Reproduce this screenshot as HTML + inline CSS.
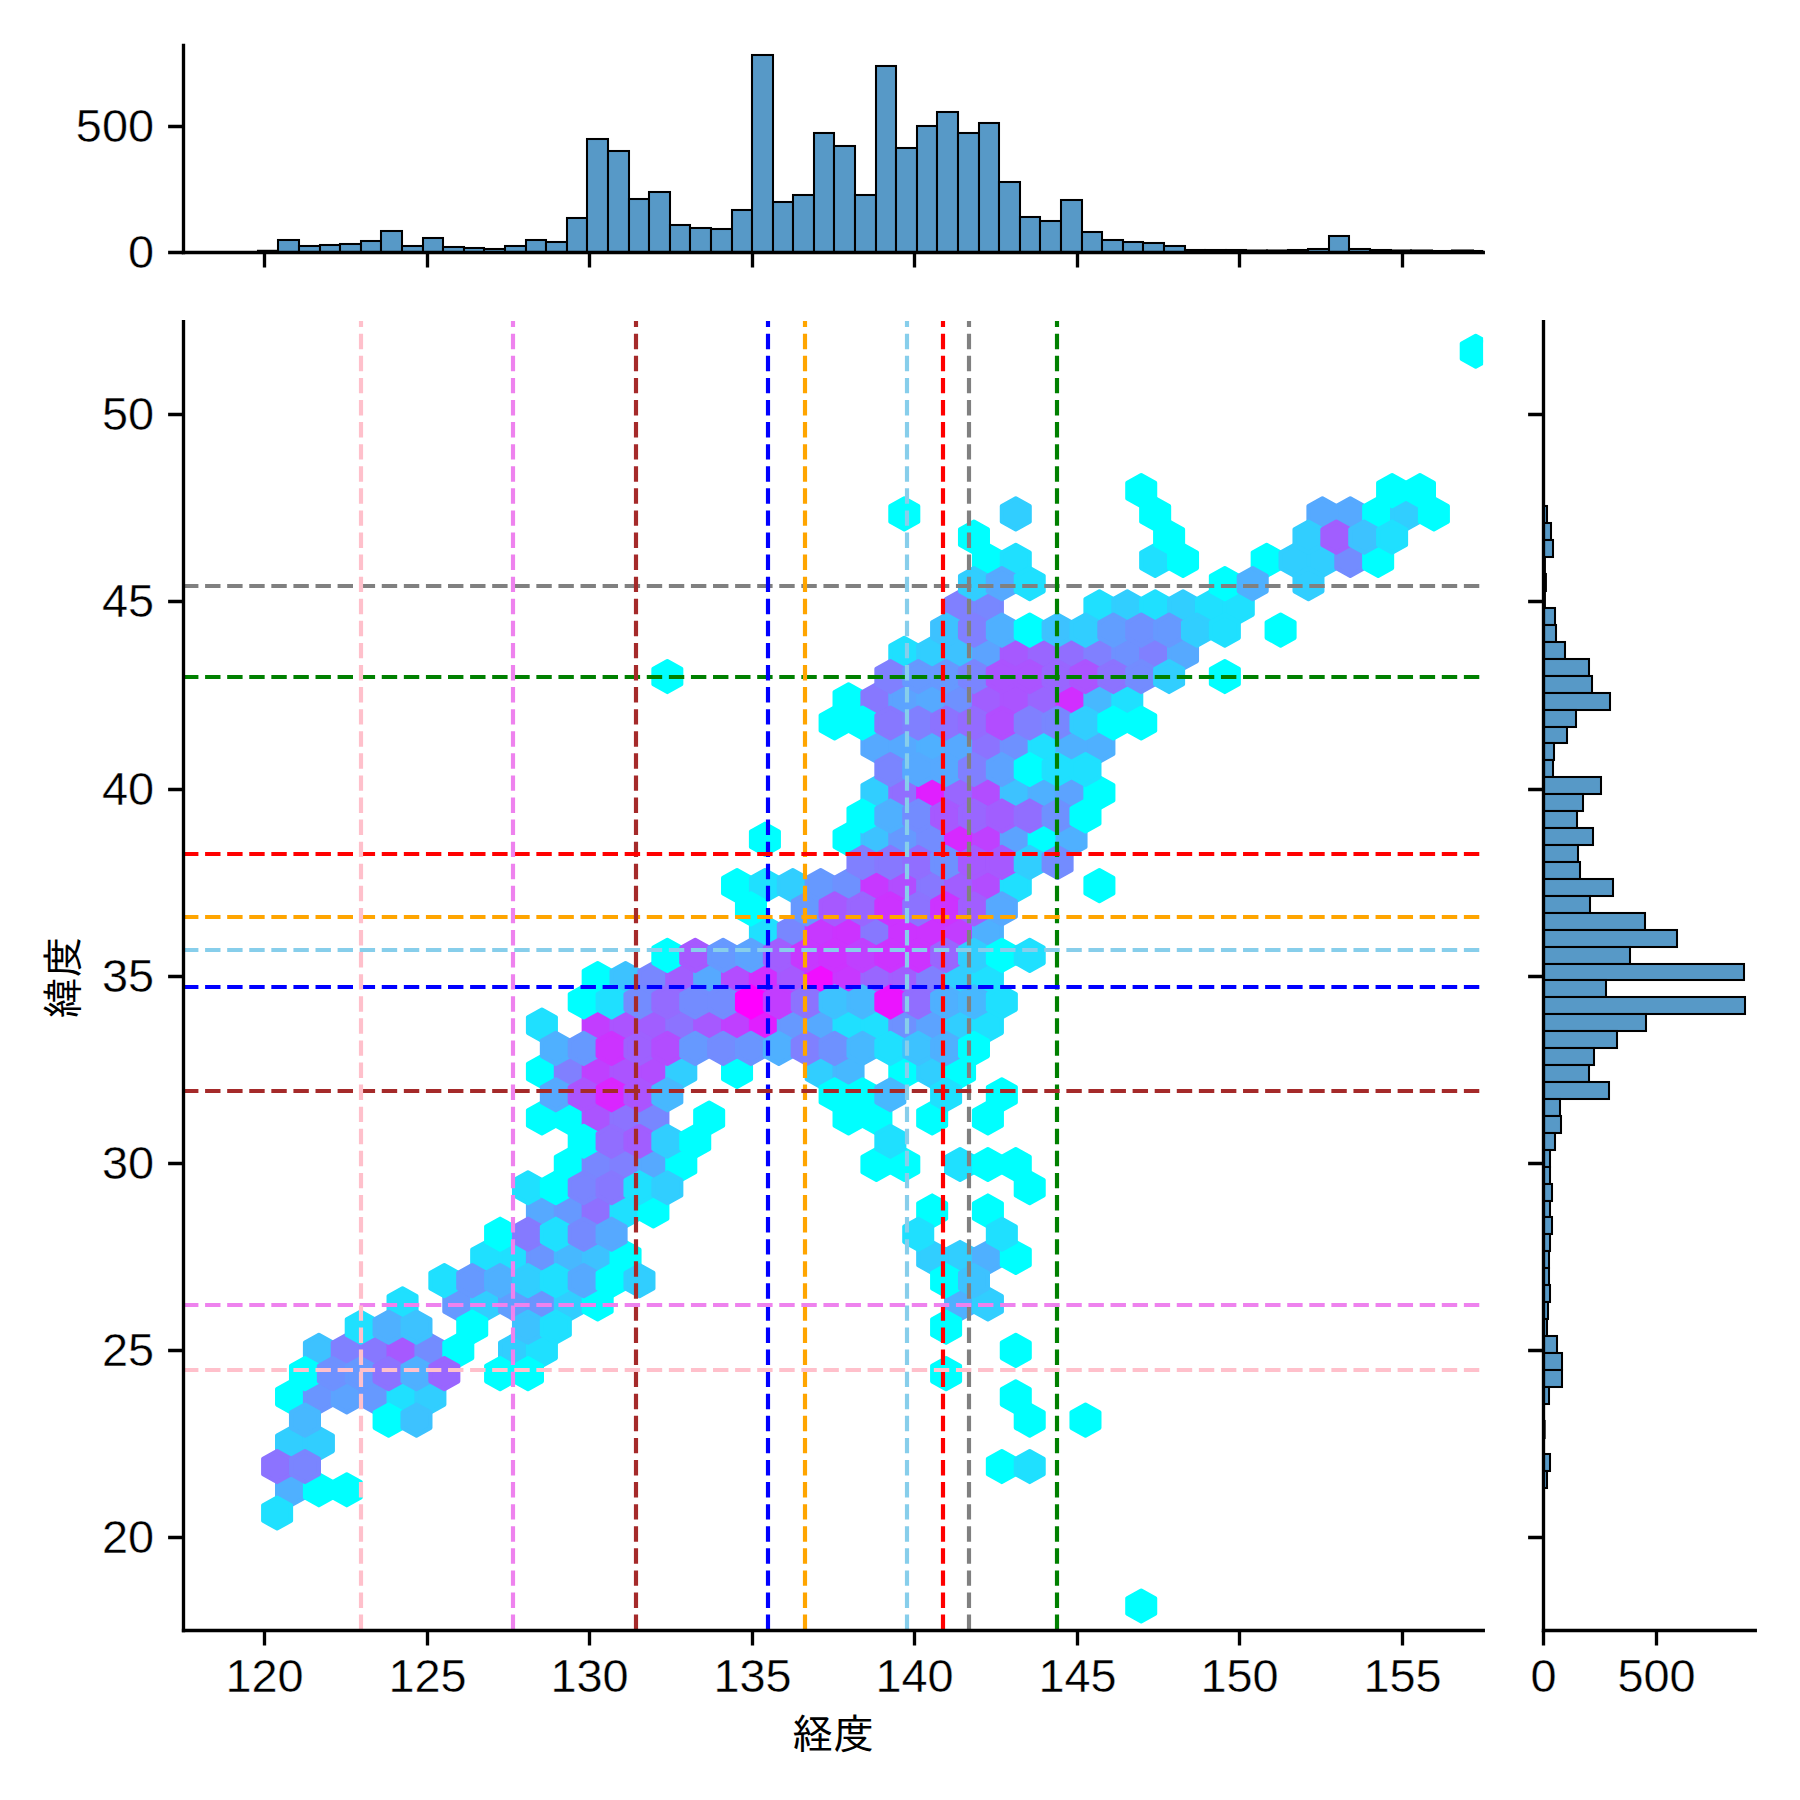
<!DOCTYPE html>
<html lang="ja"><head><meta charset="utf-8"><title>経度・緯度 jointplot</title>
<style>html,body{margin:0;padding:0;background:#fff}svg{display:block}.t{font-family:"Liberation Sans","IPAGothic",sans-serif;font-size:46.9px;fill:#000;stroke:#fff;stroke-width:0.4}.l{font-family:"Liberation Sans","IPAGothic",sans-serif;font-size:41.67px;fill:#000}.sp{stroke:#000;stroke-width:3.333;fill:none;stroke-linecap:square}.tk{stroke:#000;stroke-width:3.333;fill:none;stroke-linecap:butt}.d{stroke-width:4.167;fill:none;stroke-dasharray:15.417 6.667}.b{fill:#5799c7;stroke:#000;stroke-width:2.06;stroke-linejoin:miter}.h polygon{stroke-width:4.1667;stroke-linejoin:round}</style></head><body>
<svg xmlns="http://www.w3.org/2000/svg" width="1800" height="1800" viewBox="0 0 1800 1800">
<rect width="1800" height="1800" fill="#fff"/>
<defs>
<clipPath id="cm"><rect x="182.7" y="321.0" width="1300.4" height="1310.0"/></clipPath>
<clipPath id="ct"><rect x="183.5" y="45.5" width="1299.8" height="207.0"/></clipPath>
<clipPath id="cr"><rect x="1543.5" y="321.6" width="211.79999999999995" height="1308.9"/></clipPath>
</defs>
<g class="h" clip-path="url(#cm)">
<polygon points="304.98,1497.54 304.98,1482.05 291.04,1474.30 277.10,1482.05 277.10,1497.54 291.04,1505.28" fill="#4fb0ff" stroke="#4fb0ff"/>
<polygon points="304.98,1451.07 304.98,1435.58 291.04,1427.83 277.10,1435.58 277.10,1451.07 291.04,1458.81" fill="#31ceff" stroke="#31ceff"/>
<polygon points="304.98,1404.59 304.98,1389.10 291.04,1381.36 277.10,1389.10 277.10,1404.59 291.04,1412.34" fill="#00ffff" stroke="#00ffff"/>
<polygon points="332.85,1497.54 332.85,1482.05 318.91,1474.30 304.98,1482.05 304.98,1497.54 318.91,1505.28" fill="#00ffff" stroke="#00ffff"/>
<polygon points="332.85,1451.07 332.85,1435.58 318.91,1427.83 304.98,1435.58 304.98,1451.07 318.91,1458.81" fill="#31ceff" stroke="#31ceff"/>
<polygon points="332.85,1404.59 332.85,1389.10 318.91,1381.36 304.98,1389.10 304.98,1404.59 318.91,1412.34" fill="#6a95ff" stroke="#6a95ff"/>
<polygon points="332.85,1358.12 332.85,1342.63 318.91,1334.89 304.98,1342.63 304.98,1358.12 318.91,1365.87" fill="#3dc2ff" stroke="#3dc2ff"/>
<polygon points="360.73,1497.54 360.73,1482.05 346.79,1474.30 332.85,1482.05 332.85,1497.54 346.79,1505.28" fill="#00ffff" stroke="#00ffff"/>
<polygon points="360.73,1404.59 360.73,1389.10 346.79,1381.36 332.85,1389.10 332.85,1404.59 346.79,1412.34" fill="#5ca3ff" stroke="#5ca3ff"/>
<polygon points="360.73,1358.12 360.73,1342.63 346.79,1334.89 332.85,1342.63 332.85,1358.12 346.79,1365.87" fill="#8080ff" stroke="#8080ff"/>
<polygon points="388.60,1404.59 388.60,1389.10 374.66,1381.36 360.73,1389.10 360.73,1404.59 374.66,1412.34" fill="#6699ff" stroke="#6699ff"/>
<polygon points="388.60,1358.12 388.60,1342.63 374.66,1334.89 360.73,1342.63 360.73,1358.12 374.66,1365.87" fill="#8778ff" stroke="#8778ff"/>
<polygon points="416.48,1404.59 416.48,1389.10 402.54,1381.36 388.60,1389.10 388.60,1404.59 402.54,1412.34" fill="#1fe0ff" stroke="#1fe0ff"/>
<polygon points="416.48,1358.12 416.48,1342.63 402.54,1334.89 388.60,1342.63 388.60,1358.12 402.54,1365.87" fill="#a659ff" stroke="#a659ff"/>
<polygon points="416.48,1311.65 416.48,1296.16 402.54,1288.42 388.60,1296.16 388.60,1311.65 402.54,1319.40" fill="#1fe0ff" stroke="#1fe0ff"/>
<polygon points="444.35,1404.59 444.35,1389.10 430.41,1381.36 416.48,1389.10 416.48,1404.59 430.41,1412.34" fill="#31ceff" stroke="#31ceff"/>
<polygon points="444.35,1358.12 444.35,1342.63 430.41,1334.89 416.48,1342.63 416.48,1358.12 430.41,1365.87" fill="#738cff" stroke="#738cff"/>
<polygon points="472.23,1358.12 472.23,1342.63 458.29,1334.89 444.35,1342.63 444.35,1358.12 458.29,1365.87" fill="#00ffff" stroke="#00ffff"/>
<polygon points="472.23,1311.65 472.23,1296.16 458.29,1288.42 444.35,1296.16 444.35,1311.65 458.29,1319.40" fill="#6699ff" stroke="#6699ff"/>
<polygon points="500.10,1311.65 500.10,1296.16 486.16,1288.42 472.23,1296.16 472.23,1311.65 486.16,1319.40" fill="#31ceff" stroke="#31ceff"/>
<polygon points="500.10,1265.18 500.10,1249.69 486.16,1241.95 472.23,1249.69 472.23,1265.18 486.16,1272.93" fill="#1fe0ff" stroke="#1fe0ff"/>
<polygon points="527.98,1358.12 527.98,1342.63 514.04,1334.89 500.10,1342.63 500.10,1358.12 514.04,1365.87" fill="#31ceff" stroke="#31ceff"/>
<polygon points="527.98,1311.65 527.98,1296.16 514.04,1288.42 500.10,1296.16 500.10,1311.65 514.04,1319.40" fill="#619eff" stroke="#619eff"/>
<polygon points="527.98,1265.18 527.98,1249.69 514.04,1241.95 500.10,1249.69 500.10,1265.18 514.04,1272.93" fill="#1fe0ff" stroke="#1fe0ff"/>
<polygon points="555.85,1358.12 555.85,1342.63 541.91,1334.89 527.98,1342.63 527.98,1358.12 541.91,1365.87" fill="#1fe0ff" stroke="#1fe0ff"/>
<polygon points="555.85,1311.65 555.85,1296.16 541.91,1288.42 527.98,1296.16 527.98,1311.65 541.91,1319.40" fill="#6a95ff" stroke="#6a95ff"/>
<polygon points="555.85,1265.18 555.85,1249.69 541.91,1241.95 527.98,1249.69 527.98,1265.18 541.91,1272.93" fill="#6a95ff" stroke="#6a95ff"/>
<polygon points="555.85,1218.71 555.85,1203.22 541.91,1195.47 527.98,1203.22 527.98,1218.71 541.91,1226.46" fill="#56a9ff" stroke="#56a9ff"/>
<polygon points="555.85,1125.77 555.85,1110.28 541.91,1102.53 527.98,1110.28 527.98,1125.77 541.91,1133.51" fill="#00ffff" stroke="#00ffff"/>
<polygon points="555.85,1079.30 555.85,1063.81 541.91,1056.06 527.98,1063.81 527.98,1079.30 541.91,1087.04" fill="#00ffff" stroke="#00ffff"/>
<polygon points="555.85,1032.83 555.85,1017.33 541.91,1009.59 527.98,1017.33 527.98,1032.83 541.91,1040.57" fill="#1fe0ff" stroke="#1fe0ff"/>
<polygon points="583.73,1311.65 583.73,1296.16 569.79,1288.42 555.85,1296.16 555.85,1311.65 569.79,1319.40" fill="#31ceff" stroke="#31ceff"/>
<polygon points="583.73,1265.18 583.73,1249.69 569.79,1241.95 555.85,1249.69 555.85,1265.18 569.79,1272.93" fill="#47b8ff" stroke="#47b8ff"/>
<polygon points="583.73,1218.71 583.73,1203.22 569.79,1195.47 555.85,1203.22 555.85,1218.71 569.79,1226.46" fill="#6699ff" stroke="#6699ff"/>
<polygon points="583.73,1172.24 583.73,1156.75 569.79,1149.00 555.85,1156.75 555.85,1172.24 569.79,1179.98" fill="#00ffff" stroke="#00ffff"/>
<polygon points="583.73,1125.77 583.73,1110.28 569.79,1102.53 555.85,1110.28 555.85,1125.77 569.79,1133.51" fill="#00ffff" stroke="#00ffff"/>
<polygon points="583.73,1079.30 583.73,1063.81 569.79,1056.06 555.85,1063.81 555.85,1079.30 569.79,1087.04" fill="#8080ff" stroke="#8080ff"/>
<polygon points="611.60,1311.65 611.60,1296.16 597.66,1288.42 583.73,1296.16 583.73,1311.65 597.66,1319.40" fill="#00ffff" stroke="#00ffff"/>
<polygon points="611.60,1265.18 611.60,1249.69 597.66,1241.95 583.73,1249.69 583.73,1265.18 597.66,1272.93" fill="#3dc2ff" stroke="#3dc2ff"/>
<polygon points="611.60,1218.71 611.60,1203.22 597.66,1195.47 583.73,1203.22 583.73,1218.71 597.66,1226.46" fill="#8f70ff" stroke="#8f70ff"/>
<polygon points="611.60,1172.24 611.60,1156.75 597.66,1149.00 583.73,1156.75 583.73,1172.24 597.66,1179.98" fill="#7887ff" stroke="#7887ff"/>
<polygon points="611.60,1125.77 611.60,1110.28 597.66,1102.53 583.73,1110.28 583.73,1125.77 597.66,1133.51" fill="#ab54ff" stroke="#ab54ff"/>
<polygon points="611.60,1079.30 611.60,1063.81 597.66,1056.06 583.73,1063.81 583.73,1079.30 597.66,1087.04" fill="#bf40ff" stroke="#bf40ff"/>
<polygon points="611.60,1032.83 611.60,1017.33 597.66,1009.59 583.73,1017.33 583.73,1032.83 597.66,1040.57" fill="#c23dff" stroke="#c23dff"/>
<polygon points="611.60,986.35 611.60,970.86 597.66,963.12 583.73,970.86 583.73,986.35 597.66,994.10" fill="#00ffff" stroke="#00ffff"/>
<polygon points="639.48,1265.18 639.48,1249.69 625.54,1241.95 611.60,1249.69 611.60,1265.18 625.54,1272.93" fill="#00ffff" stroke="#00ffff"/>
<polygon points="639.48,1218.71 639.48,1203.22 625.54,1195.47 611.60,1203.22 611.60,1218.71 625.54,1226.46" fill="#1fe0ff" stroke="#1fe0ff"/>
<polygon points="639.48,1172.24 639.48,1156.75 625.54,1149.00 611.60,1156.75 611.60,1172.24 625.54,1179.98" fill="#8080ff" stroke="#8080ff"/>
<polygon points="639.48,1125.77 639.48,1110.28 625.54,1102.53 611.60,1110.28 611.60,1125.77 625.54,1133.51" fill="#8c73ff" stroke="#8c73ff"/>
<polygon points="639.48,1079.30 639.48,1063.81 625.54,1056.06 611.60,1063.81 611.60,1079.30 625.54,1087.04" fill="#ab54ff" stroke="#ab54ff"/>
<polygon points="639.48,1032.83 639.48,1017.33 625.54,1009.59 611.60,1017.33 611.60,1032.83 625.54,1040.57" fill="#ab54ff" stroke="#ab54ff"/>
<polygon points="639.48,986.35 639.48,970.86 625.54,963.12 611.60,970.86 611.60,986.35 625.54,994.10" fill="#3dc2ff" stroke="#3dc2ff"/>
<polygon points="667.35,1218.71 667.35,1203.22 653.41,1195.47 639.48,1203.22 639.48,1218.71 653.41,1226.46" fill="#00ffff" stroke="#00ffff"/>
<polygon points="667.35,1172.24 667.35,1156.75 653.41,1149.00 639.48,1156.75 639.48,1172.24 653.41,1179.98" fill="#56a9ff" stroke="#56a9ff"/>
<polygon points="667.35,1125.77 667.35,1110.28 653.41,1102.53 639.48,1110.28 639.48,1125.77 653.41,1133.51" fill="#7887ff" stroke="#7887ff"/>
<polygon points="667.35,1079.30 667.35,1063.81 653.41,1056.06 639.48,1063.81 639.48,1079.30 653.41,1087.04" fill="#b24dff" stroke="#b24dff"/>
<polygon points="667.35,1032.83 667.35,1017.33 653.41,1009.59 639.48,1017.33 639.48,1032.83 653.41,1040.57" fill="#a15eff" stroke="#a15eff"/>
<polygon points="667.35,986.35 667.35,970.86 653.41,963.12 639.48,970.86 639.48,986.35 653.41,994.10" fill="#7887ff" stroke="#7887ff"/>
<polygon points="695.23,1172.24 695.23,1156.75 681.29,1149.00 667.35,1156.75 667.35,1172.24 681.29,1179.98" fill="#00ffff" stroke="#00ffff"/>
<polygon points="695.23,1079.30 695.23,1063.81 681.29,1056.06 667.35,1063.81 667.35,1079.30 681.29,1087.04" fill="#31ceff" stroke="#31ceff"/>
<polygon points="695.23,1032.83 695.23,1017.33 681.29,1009.59 667.35,1017.33 667.35,1032.83 681.29,1040.57" fill="#8c73ff" stroke="#8c73ff"/>
<polygon points="695.23,986.35 695.23,970.86 681.29,963.12 667.35,970.86 667.35,986.35 681.29,994.10" fill="#a15eff" stroke="#a15eff"/>
<polygon points="723.10,1125.77 723.10,1110.28 709.16,1102.53 695.23,1110.28 695.23,1125.77 709.16,1133.51" fill="#00ffff" stroke="#00ffff"/>
<polygon points="723.10,1032.83 723.10,1017.33 709.16,1009.59 695.23,1017.33 695.23,1032.83 709.16,1040.57" fill="#a659ff" stroke="#a659ff"/>
<polygon points="723.10,986.35 723.10,970.86 709.16,963.12 695.23,970.86 695.23,986.35 709.16,994.10" fill="#56a9ff" stroke="#56a9ff"/>
<polygon points="750.98,1079.30 750.98,1063.81 737.04,1056.06 723.10,1063.81 723.10,1079.30 737.04,1087.04" fill="#00ffff" stroke="#00ffff"/>
<polygon points="750.98,1032.83 750.98,1017.33 737.04,1009.59 723.10,1017.33 723.10,1032.83 737.04,1040.57" fill="#bf40ff" stroke="#bf40ff"/>
<polygon points="750.98,986.35 750.98,970.86 737.04,963.12 723.10,970.86 723.10,986.35 737.04,994.10" fill="#b24dff" stroke="#b24dff"/>
<polygon points="750.98,893.41 750.98,877.92 737.04,870.18 723.10,877.92 723.10,893.41 737.04,901.16" fill="#00ffff" stroke="#00ffff"/>
<polygon points="778.85,1032.83 778.85,1017.33 764.91,1009.59 750.98,1017.33 750.98,1032.83 764.91,1040.57" fill="#e01fff" stroke="#e01fff"/>
<polygon points="778.85,986.35 778.85,970.86 764.91,963.12 750.98,970.86 750.98,986.35 764.91,994.10" fill="#d12eff" stroke="#d12eff"/>
<polygon points="778.85,939.88 778.85,924.39 764.91,916.65 750.98,924.39 750.98,939.88 764.91,947.63" fill="#1fe0ff" stroke="#1fe0ff"/>
<polygon points="778.85,893.41 778.85,877.92 764.91,870.18 750.98,877.92 750.98,893.41 764.91,901.16" fill="#1fe0ff" stroke="#1fe0ff"/>
<polygon points="778.85,846.94 778.85,831.45 764.91,823.70 750.98,831.45 750.98,846.94 764.91,854.69" fill="#00ffff" stroke="#00ffff"/>
<polygon points="806.73,1032.83 806.73,1017.33 792.79,1009.59 778.85,1017.33 778.85,1032.83 792.79,1040.57" fill="#6699ff" stroke="#6699ff"/>
<polygon points="806.73,986.35 806.73,970.86 792.79,963.12 778.85,970.86 778.85,986.35 792.79,994.10" fill="#a659ff" stroke="#a659ff"/>
<polygon points="806.73,939.88 806.73,924.39 792.79,916.65 778.85,924.39 778.85,939.88 792.79,947.63" fill="#7887ff" stroke="#7887ff"/>
<polygon points="806.73,893.41 806.73,877.92 792.79,870.18 778.85,877.92 778.85,893.41 792.79,901.16" fill="#31ceff" stroke="#31ceff"/>
<polygon points="834.60,1079.30 834.60,1063.81 820.66,1056.06 806.73,1063.81 806.73,1079.30 820.66,1087.04" fill="#31ceff" stroke="#31ceff"/>
<polygon points="834.60,1032.83 834.60,1017.33 820.66,1009.59 806.73,1017.33 806.73,1032.83 820.66,1040.57" fill="#56a9ff" stroke="#56a9ff"/>
<polygon points="834.60,986.35 834.60,970.86 820.66,963.12 806.73,970.86 806.73,986.35 820.66,994.10" fill="#f00fff" stroke="#f00fff"/>
<polygon points="834.60,939.88 834.60,924.39 820.66,916.65 806.73,924.39 806.73,939.88 820.66,947.63" fill="#c738ff" stroke="#c738ff"/>
<polygon points="834.60,893.41 834.60,877.92 820.66,870.18 806.73,877.92 806.73,893.41 820.66,901.16" fill="#6699ff" stroke="#6699ff"/>
<polygon points="862.48,1125.77 862.48,1110.28 848.54,1102.53 834.60,1110.28 834.60,1125.77 848.54,1133.51" fill="#00ffff" stroke="#00ffff"/>
<polygon points="862.48,1079.30 862.48,1063.81 848.54,1056.06 834.60,1063.81 834.60,1079.30 848.54,1087.04" fill="#47b8ff" stroke="#47b8ff"/>
<polygon points="862.48,1032.83 862.48,1017.33 848.54,1009.59 834.60,1017.33 834.60,1032.83 848.54,1040.57" fill="#1fe0ff" stroke="#1fe0ff"/>
<polygon points="862.48,986.35 862.48,970.86 848.54,963.12 834.60,970.86 834.60,986.35 848.54,994.10" fill="#c738ff" stroke="#c738ff"/>
<polygon points="862.48,939.88 862.48,924.39 848.54,916.65 834.60,924.39 834.60,939.88 848.54,947.63" fill="#cc33ff" stroke="#cc33ff"/>
<polygon points="862.48,893.41 862.48,877.92 848.54,870.18 834.60,877.92 834.60,893.41 848.54,901.16" fill="#6e91ff" stroke="#6e91ff"/>
<polygon points="862.48,846.94 862.48,831.45 848.54,823.70 834.60,831.45 834.60,846.94 848.54,854.69" fill="#00ffff" stroke="#00ffff"/>
<polygon points="862.48,707.53 862.48,692.04 848.54,684.29 834.60,692.04 834.60,707.53 848.54,715.27" fill="#00ffff" stroke="#00ffff"/>
<polygon points="890.35,1172.24 890.35,1156.75 876.41,1149.00 862.48,1156.75 862.48,1172.24 876.41,1179.98" fill="#00ffff" stroke="#00ffff"/>
<polygon points="890.35,1125.77 890.35,1110.28 876.41,1102.53 862.48,1110.28 862.48,1125.77 876.41,1133.51" fill="#00ffff" stroke="#00ffff"/>
<polygon points="890.35,1032.83 890.35,1017.33 876.41,1009.59 862.48,1017.33 862.48,1032.83 876.41,1040.57" fill="#1fe0ff" stroke="#1fe0ff"/>
<polygon points="890.35,986.35 890.35,970.86 876.41,963.12 862.48,970.86 862.48,986.35 876.41,994.10" fill="#9966ff" stroke="#9966ff"/>
<polygon points="890.35,939.88 890.35,924.39 876.41,916.65 862.48,924.39 862.48,939.88 876.41,947.63" fill="#8778ff" stroke="#8778ff"/>
<polygon points="890.35,893.41 890.35,877.92 876.41,870.18 862.48,877.92 862.48,893.41 876.41,901.16" fill="#c738ff" stroke="#c738ff"/>
<polygon points="890.35,846.94 890.35,831.45 876.41,823.70 862.48,831.45 862.48,846.94 876.41,854.69" fill="#3dc2ff" stroke="#3dc2ff"/>
<polygon points="890.35,800.47 890.35,784.98 876.41,777.23 862.48,784.98 862.48,800.47 876.41,808.21" fill="#31ceff" stroke="#31ceff"/>
<polygon points="890.35,754.00 890.35,738.51 876.41,730.76 862.48,738.51 862.48,754.00 876.41,761.74" fill="#56a9ff" stroke="#56a9ff"/>
<polygon points="890.35,707.53 890.35,692.04 876.41,684.29 862.48,692.04 862.48,707.53 876.41,715.27" fill="#8778ff" stroke="#8778ff"/>
<polygon points="918.23,1172.24 918.23,1156.75 904.29,1149.00 890.35,1156.75 890.35,1172.24 904.29,1179.98" fill="#00ffff" stroke="#00ffff"/>
<polygon points="918.23,1079.30 918.23,1063.81 904.29,1056.06 890.35,1063.81 890.35,1079.30 904.29,1087.04" fill="#00ffff" stroke="#00ffff"/>
<polygon points="918.23,1032.83 918.23,1017.33 904.29,1009.59 890.35,1017.33 890.35,1032.83 904.29,1040.57" fill="#6e91ff" stroke="#6e91ff"/>
<polygon points="918.23,986.35 918.23,970.86 904.29,963.12 890.35,970.86 890.35,986.35 904.29,994.10" fill="#a15eff" stroke="#a15eff"/>
<polygon points="918.23,939.88 918.23,924.39 904.29,916.65 890.35,924.39 890.35,939.88 904.29,947.63" fill="#cc33ff" stroke="#cc33ff"/>
<polygon points="918.23,893.41 918.23,877.92 904.29,870.18 890.35,877.92 890.35,893.41 904.29,901.16" fill="#b24dff" stroke="#b24dff"/>
<polygon points="918.23,846.94 918.23,831.45 904.29,823.70 890.35,831.45 890.35,846.94 904.29,854.69" fill="#6699ff" stroke="#6699ff"/>
<polygon points="918.23,800.47 918.23,784.98 904.29,777.23 890.35,784.98 890.35,800.47 904.29,808.21" fill="#916eff" stroke="#916eff"/>
<polygon points="918.23,754.00 918.23,738.51 904.29,730.76 890.35,738.51 890.35,754.00 904.29,761.74" fill="#56a9ff" stroke="#56a9ff"/>
<polygon points="918.23,707.53 918.23,692.04 904.29,684.29 890.35,692.04 890.35,707.53 904.29,715.27" fill="#5ca3ff" stroke="#5ca3ff"/>
<polygon points="918.23,661.06 918.23,645.57 904.29,637.82 890.35,645.57 890.35,661.06 904.29,668.80" fill="#1fe0ff" stroke="#1fe0ff"/>
<polygon points="918.23,521.64 918.23,506.15 904.29,498.41 890.35,506.15 890.35,521.64 904.29,529.39" fill="#00ffff" stroke="#00ffff"/>
<polygon points="946.10,1265.18 946.10,1249.69 932.16,1241.95 918.23,1249.69 918.23,1265.18 932.16,1272.93" fill="#31ceff" stroke="#31ceff"/>
<polygon points="946.10,1218.71 946.10,1203.22 932.16,1195.47 918.23,1203.22 918.23,1218.71 932.16,1226.46" fill="#00ffff" stroke="#00ffff"/>
<polygon points="946.10,1125.77 946.10,1110.28 932.16,1102.53 918.23,1110.28 918.23,1125.77 932.16,1133.51" fill="#00ffff" stroke="#00ffff"/>
<polygon points="946.10,1079.30 946.10,1063.81 932.16,1056.06 918.23,1063.81 918.23,1079.30 932.16,1087.04" fill="#31ceff" stroke="#31ceff"/>
<polygon points="946.10,1032.83 946.10,1017.33 932.16,1009.59 918.23,1017.33 918.23,1032.83 932.16,1040.57" fill="#5ca3ff" stroke="#5ca3ff"/>
<polygon points="946.10,986.35 946.10,970.86 932.16,963.12 918.23,970.86 918.23,986.35 932.16,994.10" fill="#8080ff" stroke="#8080ff"/>
<polygon points="946.10,939.88 946.10,924.39 932.16,916.65 918.23,924.39 918.23,939.88 932.16,947.63" fill="#cc33ff" stroke="#cc33ff"/>
<polygon points="946.10,893.41 946.10,877.92 932.16,870.18 918.23,877.92 918.23,893.41 932.16,901.16" fill="#8778ff" stroke="#8778ff"/>
<polygon points="946.10,846.94 946.10,831.45 932.16,823.70 918.23,831.45 918.23,846.94 932.16,854.69" fill="#738cff" stroke="#738cff"/>
<polygon points="946.10,800.47 946.10,784.98 932.16,777.23 918.23,784.98 918.23,800.47 932.16,808.21" fill="#e01fff" stroke="#e01fff"/>
<polygon points="946.10,754.00 946.10,738.51 932.16,730.76 918.23,738.51 918.23,754.00 932.16,761.74" fill="#4fb0ff" stroke="#4fb0ff"/>
<polygon points="946.10,707.53 946.10,692.04 932.16,684.29 918.23,692.04 918.23,707.53 932.16,715.27" fill="#56a9ff" stroke="#56a9ff"/>
<polygon points="946.10,661.06 946.10,645.57 932.16,637.82 918.23,645.57 918.23,661.06 932.16,668.80" fill="#31ceff" stroke="#31ceff"/>
<polygon points="973.98,1311.65 973.98,1296.16 960.04,1288.42 946.10,1296.16 946.10,1311.65 960.04,1319.40" fill="#4fb0ff" stroke="#4fb0ff"/>
<polygon points="973.98,1265.18 973.98,1249.69 960.04,1241.95 946.10,1249.69 946.10,1265.18 960.04,1272.93" fill="#31ceff" stroke="#31ceff"/>
<polygon points="973.98,1172.24 973.98,1156.75 960.04,1149.00 946.10,1156.75 946.10,1172.24 960.04,1179.98" fill="#1fe0ff" stroke="#1fe0ff"/>
<polygon points="973.98,1079.30 973.98,1063.81 960.04,1056.06 946.10,1063.81 946.10,1079.30 960.04,1087.04" fill="#00ffff" stroke="#00ffff"/>
<polygon points="973.98,1032.83 973.98,1017.33 960.04,1009.59 946.10,1017.33 946.10,1032.83 960.04,1040.57" fill="#31ceff" stroke="#31ceff"/>
<polygon points="973.98,986.35 973.98,970.86 960.04,963.12 946.10,970.86 946.10,986.35 960.04,994.10" fill="#31ceff" stroke="#31ceff"/>
<polygon points="973.98,939.88 973.98,924.39 960.04,916.65 946.10,924.39 946.10,939.88 960.04,947.63" fill="#c23dff" stroke="#c23dff"/>
<polygon points="973.98,893.41 973.98,877.92 960.04,870.18 946.10,877.92 946.10,893.41 960.04,901.16" fill="#a15eff" stroke="#a15eff"/>
<polygon points="973.98,846.94 973.98,831.45 960.04,823.70 946.10,831.45 946.10,846.94 960.04,854.69" fill="#d629ff" stroke="#d629ff"/>
<polygon points="973.98,800.47 973.98,784.98 960.04,777.23 946.10,784.98 946.10,800.47 960.04,808.21" fill="#9966ff" stroke="#9966ff"/>
<polygon points="973.98,754.00 973.98,738.51 960.04,730.76 946.10,738.51 946.10,754.00 960.04,761.74" fill="#56a9ff" stroke="#56a9ff"/>
<polygon points="973.98,707.53 973.98,692.04 960.04,684.29 946.10,692.04 946.10,707.53 960.04,715.27" fill="#6e91ff" stroke="#6e91ff"/>
<polygon points="973.98,661.06 973.98,645.57 960.04,637.82 946.10,645.57 946.10,661.06 960.04,668.80" fill="#3dc2ff" stroke="#3dc2ff"/>
<polygon points="973.98,614.58 973.98,599.09 960.04,591.35 946.10,599.09 946.10,614.58 960.04,622.33" fill="#8080ff" stroke="#8080ff"/>
<polygon points="1001.85,1311.65 1001.85,1296.16 987.91,1288.42 973.98,1296.16 973.98,1311.65 987.91,1319.40" fill="#31ceff" stroke="#31ceff"/>
<polygon points="1001.85,1265.18 1001.85,1249.69 987.91,1241.95 973.98,1249.69 973.98,1265.18 987.91,1272.93" fill="#4fb0ff" stroke="#4fb0ff"/>
<polygon points="1001.85,1218.71 1001.85,1203.22 987.91,1195.47 973.98,1203.22 973.98,1218.71 987.91,1226.46" fill="#00ffff" stroke="#00ffff"/>
<polygon points="1001.85,1172.24 1001.85,1156.75 987.91,1149.00 973.98,1156.75 973.98,1172.24 987.91,1179.98" fill="#00ffff" stroke="#00ffff"/>
<polygon points="1001.85,1125.77 1001.85,1110.28 987.91,1102.53 973.98,1110.28 973.98,1125.77 987.91,1133.51" fill="#00ffff" stroke="#00ffff"/>
<polygon points="1001.85,1032.83 1001.85,1017.33 987.91,1009.59 973.98,1017.33 973.98,1032.83 987.91,1040.57" fill="#1fe0ff" stroke="#1fe0ff"/>
<polygon points="1001.85,986.35 1001.85,970.86 987.91,963.12 973.98,970.86 973.98,986.35 987.91,994.10" fill="#1fe0ff" stroke="#1fe0ff"/>
<polygon points="1001.85,939.88 1001.85,924.39 987.91,916.65 973.98,924.39 973.98,939.88 987.91,947.63" fill="#4fb0ff" stroke="#4fb0ff"/>
<polygon points="1001.85,893.41 1001.85,877.92 987.91,870.18 973.98,877.92 973.98,893.41 987.91,901.16" fill="#b24dff" stroke="#b24dff"/>
<polygon points="1001.85,846.94 1001.85,831.45 987.91,823.70 973.98,831.45 973.98,846.94 987.91,854.69" fill="#bf40ff" stroke="#bf40ff"/>
<polygon points="1001.85,800.47 1001.85,784.98 987.91,777.23 973.98,784.98 973.98,800.47 987.91,808.21" fill="#b24dff" stroke="#b24dff"/>
<polygon points="1001.85,754.00 1001.85,738.51 987.91,730.76 973.98,738.51 973.98,754.00 987.91,761.74" fill="#8c73ff" stroke="#8c73ff"/>
<polygon points="1001.85,707.53 1001.85,692.04 987.91,684.29 973.98,692.04 973.98,707.53 987.91,715.27" fill="#a15eff" stroke="#a15eff"/>
<polygon points="1001.85,661.06 1001.85,645.57 987.91,637.82 973.98,645.57 973.98,661.06 987.91,668.80" fill="#5ca3ff" stroke="#5ca3ff"/>
<polygon points="1001.85,614.58 1001.85,599.09 987.91,591.35 973.98,599.09 973.98,614.58 987.91,622.33" fill="#7887ff" stroke="#7887ff"/>
<polygon points="1001.85,568.11 1001.85,552.62 987.91,544.88 973.98,552.62 973.98,568.11 987.91,575.86" fill="#00ffff" stroke="#00ffff"/>
<polygon points="1029.72,1404.59 1029.72,1389.10 1015.79,1381.36 1001.85,1389.10 1001.85,1404.59 1015.79,1412.34" fill="#00ffff" stroke="#00ffff"/>
<polygon points="1029.72,1358.12 1029.72,1342.63 1015.79,1334.89 1001.85,1342.63 1001.85,1358.12 1015.79,1365.87" fill="#00ffff" stroke="#00ffff"/>
<polygon points="1029.72,1265.18 1029.72,1249.69 1015.79,1241.95 1001.85,1249.69 1001.85,1265.18 1015.79,1272.93" fill="#00ffff" stroke="#00ffff"/>
<polygon points="1029.72,1172.24 1029.72,1156.75 1015.79,1149.00 1001.85,1156.75 1001.85,1172.24 1015.79,1179.98" fill="#00ffff" stroke="#00ffff"/>
<polygon points="1029.72,893.41 1029.72,877.92 1015.79,870.18 1001.85,877.92 1001.85,893.41 1015.79,901.16" fill="#1fe0ff" stroke="#1fe0ff"/>
<polygon points="1029.72,846.94 1029.72,831.45 1015.79,823.70 1001.85,831.45 1001.85,846.94 1015.79,854.69" fill="#5ca3ff" stroke="#5ca3ff"/>
<polygon points="1029.72,800.47 1029.72,784.98 1015.79,777.23 1001.85,784.98 1001.85,800.47 1015.79,808.21" fill="#3dc2ff" stroke="#3dc2ff"/>
<polygon points="1029.72,754.00 1029.72,738.51 1015.79,730.76 1001.85,738.51 1001.85,754.00 1015.79,761.74" fill="#6e91ff" stroke="#6e91ff"/>
<polygon points="1029.72,707.53 1029.72,692.04 1015.79,684.29 1001.85,692.04 1001.85,707.53 1015.79,715.27" fill="#ab54ff" stroke="#ab54ff"/>
<polygon points="1029.72,661.06 1029.72,645.57 1015.79,637.82 1001.85,645.57 1001.85,661.06 1015.79,668.80" fill="#a659ff" stroke="#a659ff"/>
<polygon points="1029.72,568.11 1029.72,552.62 1015.79,544.88 1001.85,552.62 1001.85,568.11 1015.79,575.86" fill="#1fe0ff" stroke="#1fe0ff"/>
<polygon points="1029.72,521.64 1029.72,506.15 1015.79,498.41 1001.85,506.15 1001.85,521.64 1015.79,529.39" fill="#31ceff" stroke="#31ceff"/>
<polygon points="1057.60,846.94 1057.60,831.45 1043.66,823.70 1029.72,831.45 1029.72,846.94 1043.66,854.69" fill="#00ffff" stroke="#00ffff"/>
<polygon points="1057.60,800.47 1057.60,784.98 1043.66,777.23 1029.72,784.98 1029.72,800.47 1043.66,808.21" fill="#4fb0ff" stroke="#4fb0ff"/>
<polygon points="1057.60,754.00 1057.60,738.51 1043.66,730.76 1029.72,738.51 1029.72,754.00 1043.66,761.74" fill="#1fe0ff" stroke="#1fe0ff"/>
<polygon points="1057.60,707.53 1057.60,692.04 1043.66,684.29 1029.72,692.04 1029.72,707.53 1043.66,715.27" fill="#9966ff" stroke="#9966ff"/>
<polygon points="1057.60,661.06 1057.60,645.57 1043.66,637.82 1029.72,645.57 1029.72,661.06 1043.66,668.80" fill="#9966ff" stroke="#9966ff"/>
<polygon points="1085.47,846.94 1085.47,831.45 1071.54,823.70 1057.60,831.45 1057.60,846.94 1071.54,854.69" fill="#4fb0ff" stroke="#4fb0ff"/>
<polygon points="1085.47,800.47 1085.47,784.98 1071.54,777.23 1057.60,784.98 1057.60,800.47 1071.54,808.21" fill="#5ca3ff" stroke="#5ca3ff"/>
<polygon points="1085.47,754.00 1085.47,738.51 1071.54,730.76 1057.60,738.51 1057.60,754.00 1071.54,761.74" fill="#4fb0ff" stroke="#4fb0ff"/>
<polygon points="1085.47,707.53 1085.47,692.04 1071.54,684.29 1057.60,692.04 1057.60,707.53 1071.54,715.27" fill="#d12eff" stroke="#d12eff"/>
<polygon points="1085.47,661.06 1085.47,645.57 1071.54,637.82 1057.60,645.57 1057.60,661.06 1071.54,668.80" fill="#916eff" stroke="#916eff"/>
<polygon points="1113.35,893.41 1113.35,877.92 1099.41,870.18 1085.47,877.92 1085.47,893.41 1099.41,901.16" fill="#00ffff" stroke="#00ffff"/>
<polygon points="1113.35,800.47 1113.35,784.98 1099.41,777.23 1085.47,784.98 1085.47,800.47 1099.41,808.21" fill="#00ffff" stroke="#00ffff"/>
<polygon points="1113.35,754.00 1113.35,738.51 1099.41,730.76 1085.47,738.51 1085.47,754.00 1099.41,761.74" fill="#4fb0ff" stroke="#4fb0ff"/>
<polygon points="1113.35,707.53 1113.35,692.04 1099.41,684.29 1085.47,692.04 1085.47,707.53 1099.41,715.27" fill="#47b8ff" stroke="#47b8ff"/>
<polygon points="1113.35,661.06 1113.35,645.57 1099.41,637.82 1085.47,645.57 1085.47,661.06 1099.41,668.80" fill="#8080ff" stroke="#8080ff"/>
<polygon points="1113.35,614.58 1113.35,599.09 1099.41,591.35 1085.47,599.09 1085.47,614.58 1099.41,622.33" fill="#1fe0ff" stroke="#1fe0ff"/>
<polygon points="1141.22,707.53 1141.22,692.04 1127.29,684.29 1113.35,692.04 1113.35,707.53 1127.29,715.27" fill="#1fe0ff" stroke="#1fe0ff"/>
<polygon points="1141.22,661.06 1141.22,645.57 1127.29,637.82 1113.35,645.57 1113.35,661.06 1127.29,668.80" fill="#6e91ff" stroke="#6e91ff"/>
<polygon points="1141.22,614.58 1141.22,599.09 1127.29,591.35 1113.35,599.09 1113.35,614.58 1127.29,622.33" fill="#31ceff" stroke="#31ceff"/>
<polygon points="1169.10,661.06 1169.10,645.57 1155.16,637.82 1141.22,645.57 1141.22,661.06 1155.16,668.80" fill="#8080ff" stroke="#8080ff"/>
<polygon points="1169.10,614.58 1169.10,599.09 1155.16,591.35 1141.22,599.09 1141.22,614.58 1155.16,622.33" fill="#1fe0ff" stroke="#1fe0ff"/>
<polygon points="1169.10,568.11 1169.10,552.62 1155.16,544.88 1141.22,552.62 1141.22,568.11 1155.16,575.86" fill="#1fe0ff" stroke="#1fe0ff"/>
<polygon points="1169.10,521.64 1169.10,506.15 1155.16,498.41 1141.22,506.15 1141.22,521.64 1155.16,529.39" fill="#00ffff" stroke="#00ffff"/>
<polygon points="1196.97,661.06 1196.97,645.57 1183.04,637.82 1169.10,645.57 1169.10,661.06 1183.04,668.80" fill="#56a9ff" stroke="#56a9ff"/>
<polygon points="1196.97,614.58 1196.97,599.09 1183.04,591.35 1169.10,599.09 1169.10,614.58 1183.04,622.33" fill="#31ceff" stroke="#31ceff"/>
<polygon points="1196.97,568.11 1196.97,552.62 1183.04,544.88 1169.10,552.62 1169.10,568.11 1183.04,575.86" fill="#00ffff" stroke="#00ffff"/>
<polygon points="1224.85,614.58 1224.85,599.09 1210.91,591.35 1196.97,599.09 1196.97,614.58 1210.91,622.33" fill="#1fe0ff" stroke="#1fe0ff"/>
<polygon points="1252.72,614.58 1252.72,599.09 1238.79,591.35 1224.85,599.09 1224.85,614.58 1238.79,622.33" fill="#1fe0ff" stroke="#1fe0ff"/>
<polygon points="1280.60,568.11 1280.60,552.62 1266.66,544.88 1252.72,552.62 1252.72,568.11 1266.66,575.86" fill="#00ffff" stroke="#00ffff"/>
<polygon points="1308.47,568.11 1308.47,552.62 1294.54,544.88 1280.60,552.62 1280.60,568.11 1294.54,575.86" fill="#31ceff" stroke="#31ceff"/>
<polygon points="1336.35,568.11 1336.35,552.62 1322.41,544.88 1308.47,552.62 1308.47,568.11 1322.41,575.86" fill="#31ceff" stroke="#31ceff"/>
<polygon points="1336.35,521.64 1336.35,506.15 1322.41,498.41 1308.47,506.15 1308.47,521.64 1322.41,529.39" fill="#56a9ff" stroke="#56a9ff"/>
<polygon points="1364.22,568.11 1364.22,552.62 1350.29,544.88 1336.35,552.62 1336.35,568.11 1350.29,575.86" fill="#738cff" stroke="#738cff"/>
<polygon points="1364.22,521.64 1364.22,506.15 1350.29,498.41 1336.35,506.15 1336.35,521.64 1350.29,529.39" fill="#56a9ff" stroke="#56a9ff"/>
<polygon points="1392.10,568.11 1392.10,552.62 1378.16,544.88 1364.22,552.62 1364.22,568.11 1378.16,575.86" fill="#00ffff" stroke="#00ffff"/>
<polygon points="1392.10,521.64 1392.10,506.15 1378.16,498.41 1364.22,506.15 1364.22,521.64 1378.16,529.39" fill="#00ffff" stroke="#00ffff"/>
<polygon points="1419.97,521.64 1419.97,506.15 1406.04,498.41 1392.10,506.15 1392.10,521.64 1406.04,529.39" fill="#31ceff" stroke="#31ceff"/>
<polygon points="1447.85,521.64 1447.85,506.15 1433.91,498.41 1419.97,506.15 1419.97,521.64 1433.91,529.39" fill="#00ffff" stroke="#00ffff"/>
<polygon points="291.04,1520.77 291.04,1505.28 277.10,1497.54 263.16,1505.28 263.16,1520.77 277.10,1528.52" fill="#1fe0ff" stroke="#1fe0ff"/>
<polygon points="291.04,1474.30 291.04,1458.81 277.10,1451.07 263.16,1458.81 263.16,1474.30 277.10,1482.05" fill="#8c73ff" stroke="#8c73ff"/>
<polygon points="318.91,1474.30 318.91,1458.81 304.98,1451.07 291.04,1458.81 291.04,1474.30 304.98,1482.05" fill="#7a85ff" stroke="#7a85ff"/>
<polygon points="318.91,1427.83 318.91,1412.34 304.98,1404.59 291.04,1412.34 291.04,1427.83 304.98,1435.58" fill="#47b8ff" stroke="#47b8ff"/>
<polygon points="318.91,1381.36 318.91,1365.87 304.98,1358.12 291.04,1365.87 291.04,1381.36 304.98,1389.10" fill="#00ffff" stroke="#00ffff"/>
<polygon points="346.79,1381.36 346.79,1365.87 332.85,1358.12 318.91,1365.87 318.91,1381.36 332.85,1389.10" fill="#6e91ff" stroke="#6e91ff"/>
<polygon points="374.66,1381.36 374.66,1365.87 360.73,1358.12 346.79,1365.87 346.79,1381.36 360.73,1389.10" fill="#6699ff" stroke="#6699ff"/>
<polygon points="374.66,1334.89 374.66,1319.40 360.73,1311.65 346.79,1319.40 346.79,1334.89 360.73,1342.63" fill="#1fe0ff" stroke="#1fe0ff"/>
<polygon points="402.54,1427.83 402.54,1412.34 388.60,1404.59 374.66,1412.34 374.66,1427.83 388.60,1435.58" fill="#00ffff" stroke="#00ffff"/>
<polygon points="402.54,1381.36 402.54,1365.87 388.60,1358.12 374.66,1365.87 374.66,1381.36 388.60,1389.10" fill="#8c73ff" stroke="#8c73ff"/>
<polygon points="402.54,1334.89 402.54,1319.40 388.60,1311.65 374.66,1319.40 374.66,1334.89 388.60,1342.63" fill="#4fb0ff" stroke="#4fb0ff"/>
<polygon points="430.41,1427.83 430.41,1412.34 416.48,1404.59 402.54,1412.34 402.54,1427.83 416.48,1435.58" fill="#3dc2ff" stroke="#3dc2ff"/>
<polygon points="430.41,1381.36 430.41,1365.87 416.48,1358.12 402.54,1365.87 402.54,1381.36 416.48,1389.10" fill="#4fb0ff" stroke="#4fb0ff"/>
<polygon points="430.41,1334.89 430.41,1319.40 416.48,1311.65 402.54,1319.40 402.54,1334.89 416.48,1342.63" fill="#3dc2ff" stroke="#3dc2ff"/>
<polygon points="458.29,1381.36 458.29,1365.87 444.35,1358.12 430.41,1365.87 430.41,1381.36 444.35,1389.10" fill="#9966ff" stroke="#9966ff"/>
<polygon points="458.29,1288.42 458.29,1272.93 444.35,1265.18 430.41,1272.93 430.41,1288.42 444.35,1296.16" fill="#1fe0ff" stroke="#1fe0ff"/>
<polygon points="486.16,1334.89 486.16,1319.40 472.23,1311.65 458.29,1319.40 458.29,1334.89 472.23,1342.63" fill="#00ffff" stroke="#00ffff"/>
<polygon points="486.16,1288.42 486.16,1272.93 472.23,1265.18 458.29,1272.93 458.29,1288.42 472.23,1296.16" fill="#6699ff" stroke="#6699ff"/>
<polygon points="514.04,1381.36 514.04,1365.87 500.10,1358.12 486.16,1365.87 486.16,1381.36 500.10,1389.10" fill="#00ffff" stroke="#00ffff"/>
<polygon points="514.04,1288.42 514.04,1272.93 500.10,1265.18 486.16,1272.93 486.16,1288.42 500.10,1296.16" fill="#4fb0ff" stroke="#4fb0ff"/>
<polygon points="514.04,1241.95 514.04,1226.46 500.10,1218.71 486.16,1226.46 486.16,1241.95 500.10,1249.69" fill="#00ffff" stroke="#00ffff"/>
<polygon points="541.91,1381.36 541.91,1365.87 527.98,1358.12 514.04,1365.87 514.04,1381.36 527.98,1389.10" fill="#00ffff" stroke="#00ffff"/>
<polygon points="541.91,1334.89 541.91,1319.40 527.98,1311.65 514.04,1319.40 514.04,1334.89 527.98,1342.63" fill="#3dc2ff" stroke="#3dc2ff"/>
<polygon points="541.91,1288.42 541.91,1272.93 527.98,1265.18 514.04,1272.93 514.04,1288.42 527.98,1296.16" fill="#31ceff" stroke="#31ceff"/>
<polygon points="541.91,1241.95 541.91,1226.46 527.98,1218.71 514.04,1226.46 514.04,1241.95 527.98,1249.69" fill="#857aff" stroke="#857aff"/>
<polygon points="541.91,1195.47 541.91,1179.98 527.98,1172.24 514.04,1179.98 514.04,1195.47 527.98,1203.22" fill="#1fe0ff" stroke="#1fe0ff"/>
<polygon points="569.79,1334.89 569.79,1319.40 555.85,1311.65 541.91,1319.40 541.91,1334.89 555.85,1342.63" fill="#1fe0ff" stroke="#1fe0ff"/>
<polygon points="569.79,1288.42 569.79,1272.93 555.85,1265.18 541.91,1272.93 541.91,1288.42 555.85,1296.16" fill="#1fe0ff" stroke="#1fe0ff"/>
<polygon points="569.79,1241.95 569.79,1226.46 555.85,1218.71 541.91,1226.46 541.91,1241.95 555.85,1249.69" fill="#1fe0ff" stroke="#1fe0ff"/>
<polygon points="569.79,1195.47 569.79,1179.98 555.85,1172.24 541.91,1179.98 541.91,1195.47 555.85,1203.22" fill="#00ffff" stroke="#00ffff"/>
<polygon points="569.79,1102.53 569.79,1087.04 555.85,1079.30 541.91,1087.04 541.91,1102.53 555.85,1110.28" fill="#56a9ff" stroke="#56a9ff"/>
<polygon points="569.79,1056.06 569.79,1040.57 555.85,1032.83 541.91,1040.57 541.91,1056.06 555.85,1063.81" fill="#4fb0ff" stroke="#4fb0ff"/>
<polygon points="597.66,1288.42 597.66,1272.93 583.73,1265.18 569.79,1272.93 569.79,1288.42 583.73,1296.16" fill="#56a9ff" stroke="#56a9ff"/>
<polygon points="597.66,1241.95 597.66,1226.46 583.73,1218.71 569.79,1226.46 569.79,1241.95 583.73,1249.69" fill="#758aff" stroke="#758aff"/>
<polygon points="597.66,1195.47 597.66,1179.98 583.73,1172.24 569.79,1179.98 569.79,1195.47 583.73,1203.22" fill="#7a85ff" stroke="#7a85ff"/>
<polygon points="597.66,1149.00 597.66,1133.51 583.73,1125.77 569.79,1133.51 569.79,1149.00 583.73,1156.75" fill="#00ffff" stroke="#00ffff"/>
<polygon points="597.66,1102.53 597.66,1087.04 583.73,1079.30 569.79,1087.04 569.79,1102.53 583.73,1110.28" fill="#ab54ff" stroke="#ab54ff"/>
<polygon points="597.66,1056.06 597.66,1040.57 583.73,1032.83 569.79,1040.57 569.79,1056.06 583.73,1063.81" fill="#6699ff" stroke="#6699ff"/>
<polygon points="597.66,1009.59 597.66,994.10 583.73,986.35 569.79,994.10 569.79,1009.59 583.73,1017.33" fill="#00ffff" stroke="#00ffff"/>
<polygon points="625.54,1288.42 625.54,1272.93 611.60,1265.18 597.66,1272.93 597.66,1288.42 611.60,1296.16" fill="#00ffff" stroke="#00ffff"/>
<polygon points="625.54,1241.95 625.54,1226.46 611.60,1218.71 597.66,1226.46 597.66,1241.95 611.60,1249.69" fill="#56a9ff" stroke="#56a9ff"/>
<polygon points="625.54,1195.47 625.54,1179.98 611.60,1172.24 597.66,1179.98 597.66,1195.47 611.60,1203.22" fill="#8778ff" stroke="#8778ff"/>
<polygon points="625.54,1149.00 625.54,1133.51 611.60,1125.77 597.66,1133.51 597.66,1149.00 611.60,1156.75" fill="#916eff" stroke="#916eff"/>
<polygon points="625.54,1102.53 625.54,1087.04 611.60,1079.30 597.66,1087.04 597.66,1102.53 611.60,1110.28" fill="#d926ff" stroke="#d926ff"/>
<polygon points="625.54,1056.06 625.54,1040.57 611.60,1032.83 597.66,1040.57 597.66,1056.06 611.60,1063.81" fill="#cc33ff" stroke="#cc33ff"/>
<polygon points="625.54,1009.59 625.54,994.10 611.60,986.35 597.66,994.10 597.66,1009.59 611.60,1017.33" fill="#1fe0ff" stroke="#1fe0ff"/>
<polygon points="653.41,1288.42 653.41,1272.93 639.48,1265.18 625.54,1272.93 625.54,1288.42 639.48,1296.16" fill="#31ceff" stroke="#31ceff"/>
<polygon points="653.41,1195.47 653.41,1179.98 639.48,1172.24 625.54,1179.98 625.54,1195.47 639.48,1203.22" fill="#1fe0ff" stroke="#1fe0ff"/>
<polygon points="653.41,1149.00 653.41,1133.51 639.48,1125.77 625.54,1133.51 625.54,1149.00 639.48,1156.75" fill="#a15eff" stroke="#a15eff"/>
<polygon points="653.41,1102.53 653.41,1087.04 639.48,1079.30 625.54,1087.04 625.54,1102.53 639.48,1110.28" fill="#ab54ff" stroke="#ab54ff"/>
<polygon points="653.41,1056.06 653.41,1040.57 639.48,1032.83 625.54,1040.57 625.54,1056.06 639.48,1063.81" fill="#9e61ff" stroke="#9e61ff"/>
<polygon points="653.41,1009.59 653.41,994.10 639.48,986.35 625.54,994.10 625.54,1009.59 639.48,1017.33" fill="#738cff" stroke="#738cff"/>
<polygon points="681.29,1195.47 681.29,1179.98 667.35,1172.24 653.41,1179.98 653.41,1195.47 667.35,1203.22" fill="#31ceff" stroke="#31ceff"/>
<polygon points="681.29,1149.00 681.29,1133.51 667.35,1125.77 653.41,1133.51 653.41,1149.00 667.35,1156.75" fill="#31ceff" stroke="#31ceff"/>
<polygon points="681.29,1102.53 681.29,1087.04 667.35,1079.30 653.41,1087.04 653.41,1102.53 667.35,1110.28" fill="#47b8ff" stroke="#47b8ff"/>
<polygon points="681.29,1056.06 681.29,1040.57 667.35,1032.83 653.41,1040.57 653.41,1056.06 667.35,1063.81" fill="#b24dff" stroke="#b24dff"/>
<polygon points="681.29,1009.59 681.29,994.10 667.35,986.35 653.41,994.10 653.41,1009.59 667.35,1017.33" fill="#946bff" stroke="#946bff"/>
<polygon points="681.29,963.12 681.29,947.63 667.35,939.88 653.41,947.63 653.41,963.12 667.35,970.86" fill="#00ffff" stroke="#00ffff"/>
<polygon points="681.29,684.29 681.29,668.80 667.35,661.06 653.41,668.80 653.41,684.29 667.35,692.04" fill="#00ffff" stroke="#00ffff"/>
<polygon points="709.16,1149.00 709.16,1133.51 695.23,1125.77 681.29,1133.51 681.29,1149.00 695.23,1156.75" fill="#00ffff" stroke="#00ffff"/>
<polygon points="709.16,1056.06 709.16,1040.57 695.23,1032.83 681.29,1040.57 681.29,1056.06 695.23,1063.81" fill="#6699ff" stroke="#6699ff"/>
<polygon points="709.16,1009.59 709.16,994.10 695.23,986.35 681.29,994.10 681.29,1009.59 695.23,1017.33" fill="#738cff" stroke="#738cff"/>
<polygon points="709.16,963.12 709.16,947.63 695.23,939.88 681.29,947.63 681.29,963.12 695.23,970.86" fill="#a659ff" stroke="#a659ff"/>
<polygon points="737.04,1056.06 737.04,1040.57 723.10,1032.83 709.16,1040.57 709.16,1056.06 723.10,1063.81" fill="#738cff" stroke="#738cff"/>
<polygon points="737.04,1009.59 737.04,994.10 723.10,986.35 709.16,994.10 709.16,1009.59 723.10,1017.33" fill="#738cff" stroke="#738cff"/>
<polygon points="737.04,963.12 737.04,947.63 723.10,939.88 709.16,947.63 709.16,963.12 723.10,970.86" fill="#6699ff" stroke="#6699ff"/>
<polygon points="764.91,1056.06 764.91,1040.57 750.98,1032.83 737.04,1040.57 737.04,1056.06 750.98,1063.81" fill="#6a95ff" stroke="#6a95ff"/>
<polygon points="764.91,1009.59 764.91,994.10 750.98,986.35 737.04,994.10 737.04,1009.59 750.98,1017.33" fill="#ff00ff" stroke="#ff00ff"/>
<polygon points="764.91,963.12 764.91,947.63 750.98,939.88 737.04,947.63 737.04,963.12 750.98,970.86" fill="#5ca3ff" stroke="#5ca3ff"/>
<polygon points="764.91,916.65 764.91,901.16 750.98,893.41 737.04,901.16 737.04,916.65 750.98,924.39" fill="#00ffff" stroke="#00ffff"/>
<polygon points="792.79,1056.06 792.79,1040.57 778.85,1032.83 764.91,1040.57 764.91,1056.06 778.85,1063.81" fill="#4fb0ff" stroke="#4fb0ff"/>
<polygon points="792.79,1009.59 792.79,994.10 778.85,986.35 764.91,994.10 764.91,1009.59 778.85,1017.33" fill="#c23dff" stroke="#c23dff"/>
<polygon points="792.79,963.12 792.79,947.63 778.85,939.88 764.91,947.63 764.91,963.12 778.85,970.86" fill="#a15eff" stroke="#a15eff"/>
<polygon points="820.66,1056.06 820.66,1040.57 806.73,1032.83 792.79,1040.57 792.79,1056.06 806.73,1063.81" fill="#8080ff" stroke="#8080ff"/>
<polygon points="820.66,1009.59 820.66,994.10 806.73,986.35 792.79,994.10 792.79,1009.59 806.73,1017.33" fill="#8c73ff" stroke="#8c73ff"/>
<polygon points="820.66,963.12 820.66,947.63 806.73,939.88 792.79,947.63 792.79,963.12 806.73,970.86" fill="#c738ff" stroke="#c738ff"/>
<polygon points="820.66,916.65 820.66,901.16 806.73,893.41 792.79,901.16 792.79,916.65 806.73,924.39" fill="#6699ff" stroke="#6699ff"/>
<polygon points="848.54,1102.53 848.54,1087.04 834.60,1079.30 820.66,1087.04 820.66,1102.53 834.60,1110.28" fill="#00ffff" stroke="#00ffff"/>
<polygon points="848.54,1056.06 848.54,1040.57 834.60,1032.83 820.66,1040.57 820.66,1056.06 834.60,1063.81" fill="#6e91ff" stroke="#6e91ff"/>
<polygon points="848.54,1009.59 848.54,994.10 834.60,986.35 820.66,994.10 820.66,1009.59 834.60,1017.33" fill="#3dc2ff" stroke="#3dc2ff"/>
<polygon points="848.54,963.12 848.54,947.63 834.60,939.88 820.66,947.63 820.66,963.12 834.60,970.86" fill="#cc33ff" stroke="#cc33ff"/>
<polygon points="848.54,916.65 848.54,901.16 834.60,893.41 820.66,901.16 820.66,916.65 834.60,924.39" fill="#a659ff" stroke="#a659ff"/>
<polygon points="848.54,730.76 848.54,715.27 834.60,707.53 820.66,715.27 820.66,730.76 834.60,738.51" fill="#00ffff" stroke="#00ffff"/>
<polygon points="876.41,1102.53 876.41,1087.04 862.48,1079.30 848.54,1087.04 848.54,1102.53 862.48,1110.28" fill="#00ffff" stroke="#00ffff"/>
<polygon points="876.41,1056.06 876.41,1040.57 862.48,1032.83 848.54,1040.57 848.54,1056.06 862.48,1063.81" fill="#47b8ff" stroke="#47b8ff"/>
<polygon points="876.41,1009.59 876.41,994.10 862.48,986.35 848.54,994.10 848.54,1009.59 862.48,1017.33" fill="#47b8ff" stroke="#47b8ff"/>
<polygon points="876.41,963.12 876.41,947.63 862.48,939.88 848.54,947.63 848.54,963.12 862.48,970.86" fill="#bf40ff" stroke="#bf40ff"/>
<polygon points="876.41,916.65 876.41,901.16 862.48,893.41 848.54,901.16 848.54,916.65 862.48,924.39" fill="#9966ff" stroke="#9966ff"/>
<polygon points="876.41,870.18 876.41,854.69 862.48,846.94 848.54,854.69 848.54,870.18 862.48,877.92" fill="#8080ff" stroke="#8080ff"/>
<polygon points="876.41,823.70 876.41,808.21 862.48,800.47 848.54,808.21 848.54,823.70 862.48,831.45" fill="#00ffff" stroke="#00ffff"/>
<polygon points="876.41,730.76 876.41,715.27 862.48,707.53 848.54,715.27 848.54,730.76 862.48,738.51" fill="#00ffff" stroke="#00ffff"/>
<polygon points="904.29,1149.00 904.29,1133.51 890.35,1125.77 876.41,1133.51 876.41,1149.00 890.35,1156.75" fill="#1fe0ff" stroke="#1fe0ff"/>
<polygon points="904.29,1102.53 904.29,1087.04 890.35,1079.30 876.41,1087.04 876.41,1102.53 890.35,1110.28" fill="#47b8ff" stroke="#47b8ff"/>
<polygon points="904.29,1056.06 904.29,1040.57 890.35,1032.83 876.41,1040.57 876.41,1056.06 890.35,1063.81" fill="#1fe0ff" stroke="#1fe0ff"/>
<polygon points="904.29,1009.59 904.29,994.10 890.35,986.35 876.41,994.10 876.41,1009.59 890.35,1017.33" fill="#eb14ff" stroke="#eb14ff"/>
<polygon points="904.29,963.12 904.29,947.63 890.35,939.88 876.41,947.63 876.41,963.12 890.35,970.86" fill="#cc33ff" stroke="#cc33ff"/>
<polygon points="904.29,916.65 904.29,901.16 890.35,893.41 876.41,901.16 876.41,916.65 890.35,924.39" fill="#cc33ff" stroke="#cc33ff"/>
<polygon points="904.29,870.18 904.29,854.69 890.35,846.94 876.41,854.69 876.41,870.18 890.35,877.92" fill="#8778ff" stroke="#8778ff"/>
<polygon points="904.29,823.70 904.29,808.21 890.35,800.47 876.41,808.21 876.41,823.70 890.35,831.45" fill="#4fb0ff" stroke="#4fb0ff"/>
<polygon points="904.29,777.23 904.29,761.74 890.35,754.00 876.41,761.74 876.41,777.23 890.35,784.98" fill="#7a85ff" stroke="#7a85ff"/>
<polygon points="904.29,730.76 904.29,715.27 890.35,707.53 876.41,715.27 876.41,730.76 890.35,738.51" fill="#8778ff" stroke="#8778ff"/>
<polygon points="904.29,684.29 904.29,668.80 890.35,661.06 876.41,668.80 876.41,684.29 890.35,692.04" fill="#8080ff" stroke="#8080ff"/>
<polygon points="932.16,1241.95 932.16,1226.46 918.23,1218.71 904.29,1226.46 904.29,1241.95 918.23,1249.69" fill="#1fe0ff" stroke="#1fe0ff"/>
<polygon points="932.16,1056.06 932.16,1040.57 918.23,1032.83 904.29,1040.57 904.29,1056.06 918.23,1063.81" fill="#3dc2ff" stroke="#3dc2ff"/>
<polygon points="932.16,1009.59 932.16,994.10 918.23,986.35 904.29,994.10 904.29,1009.59 918.23,1017.33" fill="#916eff" stroke="#916eff"/>
<polygon points="932.16,963.12 932.16,947.63 918.23,939.88 904.29,947.63 904.29,963.12 918.23,970.86" fill="#cc33ff" stroke="#cc33ff"/>
<polygon points="932.16,916.65 932.16,901.16 918.23,893.41 904.29,901.16 904.29,916.65 918.23,924.39" fill="#8c73ff" stroke="#8c73ff"/>
<polygon points="932.16,870.18 932.16,854.69 918.23,846.94 904.29,854.69 904.29,870.18 918.23,877.92" fill="#916eff" stroke="#916eff"/>
<polygon points="932.16,823.70 932.16,808.21 918.23,800.47 904.29,808.21 904.29,823.70 918.23,831.45" fill="#738cff" stroke="#738cff"/>
<polygon points="932.16,777.23 932.16,761.74 918.23,754.00 904.29,761.74 904.29,777.23 918.23,784.98" fill="#56a9ff" stroke="#56a9ff"/>
<polygon points="932.16,730.76 932.16,715.27 918.23,707.53 904.29,715.27 904.29,730.76 918.23,738.51" fill="#8080ff" stroke="#8080ff"/>
<polygon points="932.16,684.29 932.16,668.80 918.23,661.06 904.29,668.80 904.29,684.29 918.23,692.04" fill="#6699ff" stroke="#6699ff"/>
<polygon points="960.04,1381.36 960.04,1365.87 946.10,1358.12 932.16,1365.87 932.16,1381.36 946.10,1389.10" fill="#00ffff" stroke="#00ffff"/>
<polygon points="960.04,1334.89 960.04,1319.40 946.10,1311.65 932.16,1319.40 932.16,1334.89 946.10,1342.63" fill="#00ffff" stroke="#00ffff"/>
<polygon points="960.04,1288.42 960.04,1272.93 946.10,1265.18 932.16,1272.93 932.16,1288.42 946.10,1296.16" fill="#00ffff" stroke="#00ffff"/>
<polygon points="960.04,1102.53 960.04,1087.04 946.10,1079.30 932.16,1087.04 932.16,1102.53 946.10,1110.28" fill="#1fe0ff" stroke="#1fe0ff"/>
<polygon points="960.04,1056.06 960.04,1040.57 946.10,1032.83 932.16,1040.57 932.16,1056.06 946.10,1063.81" fill="#4fb0ff" stroke="#4fb0ff"/>
<polygon points="960.04,1009.59 960.04,994.10 946.10,986.35 932.16,994.10 932.16,1009.59 946.10,1017.33" fill="#4fb0ff" stroke="#4fb0ff"/>
<polygon points="960.04,963.12 960.04,947.63 946.10,939.88 932.16,947.63 932.16,963.12 946.10,970.86" fill="#9966ff" stroke="#9966ff"/>
<polygon points="960.04,916.65 960.04,901.16 946.10,893.41 932.16,901.16 932.16,916.65 946.10,924.39" fill="#cc33ff" stroke="#cc33ff"/>
<polygon points="960.04,870.18 960.04,854.69 946.10,846.94 932.16,854.69 932.16,870.18 946.10,877.92" fill="#6e91ff" stroke="#6e91ff"/>
<polygon points="960.04,823.70 960.04,808.21 946.10,800.47 932.16,808.21 932.16,823.70 946.10,831.45" fill="#a659ff" stroke="#a659ff"/>
<polygon points="960.04,777.23 960.04,761.74 946.10,754.00 932.16,761.74 932.16,777.23 946.10,784.98" fill="#56a9ff" stroke="#56a9ff"/>
<polygon points="960.04,730.76 960.04,715.27 946.10,707.53 932.16,715.27 932.16,730.76 946.10,738.51" fill="#8c73ff" stroke="#8c73ff"/>
<polygon points="960.04,684.29 960.04,668.80 946.10,661.06 932.16,668.80 932.16,684.29 946.10,692.04" fill="#6699ff" stroke="#6699ff"/>
<polygon points="960.04,637.82 960.04,622.33 946.10,614.58 932.16,622.33 932.16,637.82 946.10,645.57" fill="#3dc2ff" stroke="#3dc2ff"/>
<polygon points="987.91,1288.42 987.91,1272.93 973.98,1265.18 960.04,1272.93 960.04,1288.42 973.98,1296.16" fill="#3dc2ff" stroke="#3dc2ff"/>
<polygon points="987.91,1056.06 987.91,1040.57 973.98,1032.83 960.04,1040.57 960.04,1056.06 973.98,1063.81" fill="#00ffff" stroke="#00ffff"/>
<polygon points="987.91,1009.59 987.91,994.10 973.98,986.35 960.04,994.10 960.04,1009.59 973.98,1017.33" fill="#47b8ff" stroke="#47b8ff"/>
<polygon points="987.91,963.12 987.91,947.63 973.98,939.88 960.04,947.63 960.04,963.12 973.98,970.86" fill="#31ceff" stroke="#31ceff"/>
<polygon points="987.91,916.65 987.91,901.16 973.98,893.41 960.04,901.16 960.04,916.65 973.98,924.39" fill="#a15eff" stroke="#a15eff"/>
<polygon points="987.91,870.18 987.91,854.69 973.98,846.94 960.04,854.69 960.04,870.18 973.98,877.92" fill="#a659ff" stroke="#a659ff"/>
<polygon points="987.91,823.70 987.91,808.21 973.98,800.47 960.04,808.21 960.04,823.70 973.98,831.45" fill="#9966ff" stroke="#9966ff"/>
<polygon points="987.91,777.23 987.91,761.74 973.98,754.00 960.04,761.74 960.04,777.23 973.98,784.98" fill="#8080ff" stroke="#8080ff"/>
<polygon points="987.91,730.76 987.91,715.27 973.98,707.53 960.04,715.27 960.04,730.76 973.98,738.51" fill="#946bff" stroke="#946bff"/>
<polygon points="987.91,684.29 987.91,668.80 973.98,661.06 960.04,668.80 960.04,684.29 973.98,692.04" fill="#7a85ff" stroke="#7a85ff"/>
<polygon points="987.91,637.82 987.91,622.33 973.98,614.58 960.04,622.33 960.04,637.82 973.98,645.57" fill="#8080ff" stroke="#8080ff"/>
<polygon points="987.91,591.35 987.91,575.86 973.98,568.11 960.04,575.86 960.04,591.35 973.98,599.09" fill="#31ceff" stroke="#31ceff"/>
<polygon points="987.91,544.88 987.91,529.39 973.98,521.64 960.04,529.39 960.04,544.88 973.98,552.62" fill="#00ffff" stroke="#00ffff"/>
<polygon points="1015.79,1474.30 1015.79,1458.81 1001.85,1451.07 987.91,1458.81 987.91,1474.30 1001.85,1482.05" fill="#00ffff" stroke="#00ffff"/>
<polygon points="1015.79,1241.95 1015.79,1226.46 1001.85,1218.71 987.91,1226.46 987.91,1241.95 1001.85,1249.69" fill="#1fe0ff" stroke="#1fe0ff"/>
<polygon points="1015.79,1102.53 1015.79,1087.04 1001.85,1079.30 987.91,1087.04 987.91,1102.53 1001.85,1110.28" fill="#00ffff" stroke="#00ffff"/>
<polygon points="1015.79,1009.59 1015.79,994.10 1001.85,986.35 987.91,994.10 987.91,1009.59 1001.85,1017.33" fill="#1fe0ff" stroke="#1fe0ff"/>
<polygon points="1015.79,963.12 1015.79,947.63 1001.85,939.88 987.91,947.63 987.91,963.12 1001.85,970.86" fill="#00ffff" stroke="#00ffff"/>
<polygon points="1015.79,916.65 1015.79,901.16 1001.85,893.41 987.91,901.16 987.91,916.65 1001.85,924.39" fill="#56a9ff" stroke="#56a9ff"/>
<polygon points="1015.79,870.18 1015.79,854.69 1001.85,846.94 987.91,854.69 987.91,870.18 1001.85,877.92" fill="#a659ff" stroke="#a659ff"/>
<polygon points="1015.79,823.70 1015.79,808.21 1001.85,800.47 987.91,808.21 987.91,823.70 1001.85,831.45" fill="#a15eff" stroke="#a15eff"/>
<polygon points="1015.79,777.23 1015.79,761.74 1001.85,754.00 987.91,761.74 987.91,777.23 1001.85,784.98" fill="#5ca3ff" stroke="#5ca3ff"/>
<polygon points="1015.79,730.76 1015.79,715.27 1001.85,707.53 987.91,715.27 987.91,730.76 1001.85,738.51" fill="#b24dff" stroke="#b24dff"/>
<polygon points="1015.79,684.29 1015.79,668.80 1001.85,661.06 987.91,668.80 987.91,684.29 1001.85,692.04" fill="#ab54ff" stroke="#ab54ff"/>
<polygon points="1015.79,637.82 1015.79,622.33 1001.85,614.58 987.91,622.33 987.91,637.82 1001.85,645.57" fill="#4fb0ff" stroke="#4fb0ff"/>
<polygon points="1015.79,591.35 1015.79,575.86 1001.85,568.11 987.91,575.86 987.91,591.35 1001.85,599.09" fill="#56a9ff" stroke="#56a9ff"/>
<polygon points="1043.66,1474.30 1043.66,1458.81 1029.72,1451.07 1015.79,1458.81 1015.79,1474.30 1029.72,1482.05" fill="#1fe0ff" stroke="#1fe0ff"/>
<polygon points="1043.66,1427.83 1043.66,1412.34 1029.72,1404.59 1015.79,1412.34 1015.79,1427.83 1029.72,1435.58" fill="#00ffff" stroke="#00ffff"/>
<polygon points="1043.66,1195.47 1043.66,1179.98 1029.72,1172.24 1015.79,1179.98 1015.79,1195.47 1029.72,1203.22" fill="#00ffff" stroke="#00ffff"/>
<polygon points="1043.66,963.12 1043.66,947.63 1029.72,939.88 1015.79,947.63 1015.79,963.12 1029.72,970.86" fill="#1fe0ff" stroke="#1fe0ff"/>
<polygon points="1043.66,870.18 1043.66,854.69 1029.72,846.94 1015.79,854.69 1015.79,870.18 1029.72,877.92" fill="#31ceff" stroke="#31ceff"/>
<polygon points="1043.66,823.70 1043.66,808.21 1029.72,800.47 1015.79,808.21 1015.79,823.70 1029.72,831.45" fill="#916eff" stroke="#916eff"/>
<polygon points="1043.66,777.23 1043.66,761.74 1029.72,754.00 1015.79,761.74 1015.79,777.23 1029.72,784.98" fill="#00ffff" stroke="#00ffff"/>
<polygon points="1043.66,730.76 1043.66,715.27 1029.72,707.53 1015.79,715.27 1015.79,730.76 1029.72,738.51" fill="#8080ff" stroke="#8080ff"/>
<polygon points="1043.66,684.29 1043.66,668.80 1029.72,661.06 1015.79,668.80 1015.79,684.29 1029.72,692.04" fill="#ab54ff" stroke="#ab54ff"/>
<polygon points="1043.66,637.82 1043.66,622.33 1029.72,614.58 1015.79,622.33 1015.79,637.82 1029.72,645.57" fill="#00ffff" stroke="#00ffff"/>
<polygon points="1043.66,591.35 1043.66,575.86 1029.72,568.11 1015.79,575.86 1015.79,591.35 1029.72,599.09" fill="#1fe0ff" stroke="#1fe0ff"/>
<polygon points="1071.54,870.18 1071.54,854.69 1057.60,846.94 1043.66,854.69 1043.66,870.18 1057.60,877.92" fill="#738cff" stroke="#738cff"/>
<polygon points="1071.54,823.70 1071.54,808.21 1057.60,800.47 1043.66,808.21 1043.66,823.70 1057.60,831.45" fill="#6e91ff" stroke="#6e91ff"/>
<polygon points="1071.54,777.23 1071.54,761.74 1057.60,754.00 1043.66,761.74 1043.66,777.23 1057.60,784.98" fill="#1fe0ff" stroke="#1fe0ff"/>
<polygon points="1071.54,730.76 1071.54,715.27 1057.60,707.53 1043.66,715.27 1043.66,730.76 1057.60,738.51" fill="#7887ff" stroke="#7887ff"/>
<polygon points="1071.54,684.29 1071.54,668.80 1057.60,661.06 1043.66,668.80 1043.66,684.29 1057.60,692.04" fill="#9966ff" stroke="#9966ff"/>
<polygon points="1071.54,637.82 1071.54,622.33 1057.60,614.58 1043.66,622.33 1043.66,637.82 1057.60,645.57" fill="#3dc2ff" stroke="#3dc2ff"/>
<polygon points="1099.41,1427.83 1099.41,1412.34 1085.47,1404.59 1071.54,1412.34 1071.54,1427.83 1085.47,1435.58" fill="#00ffff" stroke="#00ffff"/>
<polygon points="1099.41,823.70 1099.41,808.21 1085.47,800.47 1071.54,808.21 1071.54,823.70 1085.47,831.45" fill="#00ffff" stroke="#00ffff"/>
<polygon points="1099.41,777.23 1099.41,761.74 1085.47,754.00 1071.54,761.74 1071.54,777.23 1085.47,784.98" fill="#1fe0ff" stroke="#1fe0ff"/>
<polygon points="1099.41,730.76 1099.41,715.27 1085.47,707.53 1071.54,715.27 1071.54,730.76 1085.47,738.51" fill="#31ceff" stroke="#31ceff"/>
<polygon points="1099.41,684.29 1099.41,668.80 1085.47,661.06 1071.54,668.80 1071.54,684.29 1085.47,692.04" fill="#ab54ff" stroke="#ab54ff"/>
<polygon points="1099.41,637.82 1099.41,622.33 1085.47,614.58 1071.54,622.33 1071.54,637.82 1085.47,645.57" fill="#31ceff" stroke="#31ceff"/>
<polygon points="1127.29,730.76 1127.29,715.27 1113.35,707.53 1099.41,715.27 1099.41,730.76 1113.35,738.51" fill="#00ffff" stroke="#00ffff"/>
<polygon points="1127.29,684.29 1127.29,668.80 1113.35,661.06 1099.41,668.80 1099.41,684.29 1113.35,692.04" fill="#8c73ff" stroke="#8c73ff"/>
<polygon points="1127.29,637.82 1127.29,622.33 1113.35,614.58 1099.41,622.33 1099.41,637.82 1113.35,645.57" fill="#619eff" stroke="#619eff"/>
<polygon points="1155.16,1613.72 1155.16,1598.22 1141.22,1590.48 1127.29,1598.22 1127.29,1613.72 1141.22,1621.46" fill="#00ffff" stroke="#00ffff"/>
<polygon points="1155.16,730.76 1155.16,715.27 1141.22,707.53 1127.29,715.27 1127.29,730.76 1141.22,738.51" fill="#00ffff" stroke="#00ffff"/>
<polygon points="1155.16,684.29 1155.16,668.80 1141.22,661.06 1127.29,668.80 1127.29,684.29 1141.22,692.04" fill="#738cff" stroke="#738cff"/>
<polygon points="1155.16,637.82 1155.16,622.33 1141.22,614.58 1127.29,622.33 1127.29,637.82 1141.22,645.57" fill="#6e91ff" stroke="#6e91ff"/>
<polygon points="1155.16,498.41 1155.16,482.92 1141.22,475.17 1127.29,482.92 1127.29,498.41 1141.22,506.15" fill="#00ffff" stroke="#00ffff"/>
<polygon points="1183.04,684.29 1183.04,668.80 1169.10,661.06 1155.16,668.80 1155.16,684.29 1169.10,692.04" fill="#31ceff" stroke="#31ceff"/>
<polygon points="1183.04,637.82 1183.04,622.33 1169.10,614.58 1155.16,622.33 1155.16,637.82 1169.10,645.57" fill="#6699ff" stroke="#6699ff"/>
<polygon points="1183.04,544.88 1183.04,529.39 1169.10,521.64 1155.16,529.39 1155.16,544.88 1169.10,552.62" fill="#00ffff" stroke="#00ffff"/>
<polygon points="1210.91,637.82 1210.91,622.33 1196.97,614.58 1183.04,622.33 1183.04,637.82 1196.97,645.57" fill="#31ceff" stroke="#31ceff"/>
<polygon points="1238.79,684.29 1238.79,668.80 1224.85,661.06 1210.91,668.80 1210.91,684.29 1224.85,692.04" fill="#00ffff" stroke="#00ffff"/>
<polygon points="1238.79,637.82 1238.79,622.33 1224.85,614.58 1210.91,622.33 1210.91,637.82 1224.85,645.57" fill="#1fe0ff" stroke="#1fe0ff"/>
<polygon points="1238.79,591.35 1238.79,575.86 1224.85,568.11 1210.91,575.86 1210.91,591.35 1224.85,599.09" fill="#00ffff" stroke="#00ffff"/>
<polygon points="1266.66,591.35 1266.66,575.86 1252.72,568.11 1238.79,575.86 1238.79,591.35 1252.72,599.09" fill="#4fb0ff" stroke="#4fb0ff"/>
<polygon points="1294.54,637.82 1294.54,622.33 1280.60,614.58 1266.66,622.33 1266.66,637.82 1280.60,645.57" fill="#00ffff" stroke="#00ffff"/>
<polygon points="1322.41,591.35 1322.41,575.86 1308.47,568.11 1294.54,575.86 1294.54,591.35 1308.47,599.09" fill="#31ceff" stroke="#31ceff"/>
<polygon points="1322.41,544.88 1322.41,529.39 1308.47,521.64 1294.54,529.39 1294.54,544.88 1308.47,552.62" fill="#31ceff" stroke="#31ceff"/>
<polygon points="1350.29,544.88 1350.29,529.39 1336.35,521.64 1322.41,529.39 1322.41,544.88 1336.35,552.62" fill="#a15eff" stroke="#a15eff"/>
<polygon points="1378.16,544.88 1378.16,529.39 1364.22,521.64 1350.29,529.39 1350.29,544.88 1364.22,552.62" fill="#3dc2ff" stroke="#3dc2ff"/>
<polygon points="1406.04,544.88 1406.04,529.39 1392.10,521.64 1378.16,529.39 1378.16,544.88 1392.10,552.62" fill="#1fe0ff" stroke="#1fe0ff"/>
<polygon points="1406.04,498.41 1406.04,482.92 1392.10,475.17 1378.16,482.92 1378.16,498.41 1392.10,506.15" fill="#00ffff" stroke="#00ffff"/>
<polygon points="1433.91,498.41 1433.91,482.92 1419.97,475.17 1406.04,482.92 1406.04,498.41 1419.97,506.15" fill="#00ffff" stroke="#00ffff"/>
<polygon points="1489.66,358.99 1489.66,343.50 1475.72,335.76 1461.79,343.50 1461.79,358.99 1475.72,366.74" fill="#00ffff" stroke="#00ffff"/>
</g>
<g class="d" clip-path="url(#cm)">
<line x1="969" y1="1630.0" x2="969" y2="319.6" stroke="gray"/>
<line x1="183.0" y1="586" x2="1485.3" y2="586" stroke="gray"/>
<line x1="1057" y1="1630.0" x2="1057" y2="319.6" stroke="green"/>
<line x1="183.0" y1="677" x2="1485.3" y2="677" stroke="green"/>
<line x1="768" y1="1630.0" x2="768" y2="319.6" stroke="blue"/>
<line x1="183.0" y1="987" x2="1485.3" y2="987" stroke="blue"/>
<line x1="805" y1="1630.0" x2="805" y2="319.6" stroke="orange"/>
<line x1="183.0" y1="917" x2="1485.3" y2="917" stroke="orange"/>
<line x1="636" y1="1630.0" x2="636" y2="319.6" stroke="brown"/>
<line x1="183.0" y1="1091" x2="1485.3" y2="1091" stroke="brown"/>
<line x1="943" y1="1630.0" x2="943" y2="319.6" stroke="red"/>
<line x1="183.0" y1="854" x2="1485.3" y2="854" stroke="red"/>
<line x1="907" y1="1630.0" x2="907" y2="319.6" stroke="skyblue"/>
<line x1="183.0" y1="950" x2="1485.3" y2="950" stroke="skyblue"/>
<line x1="513" y1="1630.0" x2="513" y2="319.6" stroke="violet"/>
<line x1="183.0" y1="1305" x2="1485.3" y2="1305" stroke="violet"/>
<line x1="361" y1="1630.0" x2="361" y2="319.6" stroke="pink"/>
<line x1="183.0" y1="1370" x2="1485.3" y2="1370" stroke="pink"/>
</g>
<g class="b" clip-path="url(#ct)">
<rect x="258" y="250.8" width="20" height="1.7"/>
<rect x="278" y="240" width="21" height="12.5"/>
<rect x="299" y="246" width="21" height="6.5"/>
<rect x="320" y="245" width="20" height="7.5"/>
<rect x="340" y="244" width="21" height="8.5"/>
<rect x="361" y="241" width="20" height="11.5"/>
<rect x="381" y="231" width="21" height="21.5"/>
<rect x="402" y="246" width="21" height="6.5"/>
<rect x="423" y="238" width="20" height="14.5"/>
<rect x="443" y="247" width="21" height="5.5"/>
<rect x="464" y="248" width="20" height="4.5"/>
<rect x="484" y="249" width="21" height="3.5"/>
<rect x="505" y="246" width="21" height="6.5"/>
<rect x="526" y="240" width="20" height="12.5"/>
<rect x="546" y="242" width="21" height="10.5"/>
<rect x="567" y="218" width="20" height="34.5"/>
<rect x="587" y="139" width="21" height="113.5"/>
<rect x="608" y="151" width="21" height="101.5"/>
<rect x="629" y="199" width="20" height="53.5"/>
<rect x="649" y="192" width="21" height="60.5"/>
<rect x="670" y="225" width="20" height="27.5"/>
<rect x="690" y="228" width="21" height="24.5"/>
<rect x="711" y="229" width="21" height="23.5"/>
<rect x="732" y="210" width="20" height="42.5"/>
<rect x="752" y="55" width="21" height="197.5"/>
<rect x="773" y="202" width="20" height="50.5"/>
<rect x="793" y="195" width="21" height="57.5"/>
<rect x="814" y="133" width="20" height="119.5"/>
<rect x="834" y="146" width="21" height="106.5"/>
<rect x="855" y="195" width="21" height="57.5"/>
<rect x="876" y="66" width="20" height="186.5"/>
<rect x="896" y="148" width="21" height="104.5"/>
<rect x="917" y="126" width="20" height="126.5"/>
<rect x="937" y="112" width="21" height="140.5"/>
<rect x="958" y="133" width="21" height="119.5"/>
<rect x="979" y="123" width="20" height="129.5"/>
<rect x="999" y="182" width="21" height="70.5"/>
<rect x="1020" y="217" width="20" height="35.5"/>
<rect x="1040" y="221" width="21" height="31.5"/>
<rect x="1061" y="200" width="21" height="52.5"/>
<rect x="1082" y="232" width="20" height="20.5"/>
<rect x="1102" y="240" width="21" height="12.5"/>
<rect x="1123" y="242" width="20" height="10.5"/>
<rect x="1143" y="243" width="21" height="9.5"/>
<rect x="1164" y="246" width="21" height="6.5"/>
<rect x="1185" y="250" width="20" height="2.5"/>
<rect x="1205" y="250" width="21" height="2.5"/>
<rect x="1226" y="250" width="20" height="2.5"/>
<rect x="1246" y="250.5" width="21" height="2"/>
<rect x="1267" y="250.5" width="21" height="2"/>
<rect x="1288" y="250" width="20" height="2.5"/>
<rect x="1308" y="249" width="21" height="3.5"/>
<rect x="1329" y="236" width="20" height="16.5"/>
<rect x="1349" y="249" width="21" height="3.5"/>
<rect x="1370" y="250" width="21" height="2.5"/>
<rect x="1391" y="250.5" width="20" height="2"/>
<rect x="1411" y="250.5" width="21" height="2"/>
<rect x="1432" y="251" width="20" height="1.5"/>
<rect x="1452" y="250.5" width="21" height="2"/>
<rect x="1473" y="251" width="21" height="1.5"/>
</g>
<g class="b" clip-path="url(#cr)">
<rect x="1543.5" y="506" width="3.5" height="17"/>
<rect x="1543.5" y="523" width="7.5" height="17"/>
<rect x="1543.5" y="540" width="9.5" height="17"/>
<rect x="1543.5" y="557" width="1.4" height="17"/>
<rect x="1543.5" y="574" width="2.4" height="17"/>
<rect x="1543.5" y="591" width="1.4" height="17"/>
<rect x="1543.5" y="608" width="11.5" height="17"/>
<rect x="1543.5" y="625" width="12.5" height="17"/>
<rect x="1543.5" y="642" width="21.5" height="17"/>
<rect x="1543.5" y="659" width="45.5" height="17"/>
<rect x="1543.5" y="676" width="48.5" height="17"/>
<rect x="1543.5" y="693" width="66.5" height="17"/>
<rect x="1543.5" y="710" width="32.5" height="17"/>
<rect x="1543.5" y="727" width="23.5" height="16"/>
<rect x="1543.5" y="743" width="10.5" height="17"/>
<rect x="1543.5" y="760" width="9.5" height="17"/>
<rect x="1543.5" y="777" width="57.5" height="17"/>
<rect x="1543.5" y="794" width="39.5" height="17"/>
<rect x="1543.5" y="811" width="33.5" height="17"/>
<rect x="1543.5" y="828" width="49.5" height="17"/>
<rect x="1543.5" y="845" width="34.5" height="17"/>
<rect x="1543.5" y="862" width="36.5" height="17"/>
<rect x="1543.5" y="879" width="69.5" height="17"/>
<rect x="1543.5" y="896" width="46.5" height="17"/>
<rect x="1543.5" y="913" width="101.5" height="17"/>
<rect x="1543.5" y="930" width="133.5" height="17"/>
<rect x="1543.5" y="947" width="86.5" height="17"/>
<rect x="1543.5" y="964" width="200.5" height="16"/>
<rect x="1543.5" y="980" width="62.5" height="17"/>
<rect x="1543.5" y="997" width="201.5" height="17"/>
<rect x="1543.5" y="1014" width="102.5" height="17"/>
<rect x="1543.5" y="1031" width="73.5" height="17"/>
<rect x="1543.5" y="1048" width="50.5" height="17"/>
<rect x="1543.5" y="1065" width="45.5" height="17"/>
<rect x="1543.5" y="1082" width="65.5" height="17"/>
<rect x="1543.5" y="1099" width="16.5" height="17"/>
<rect x="1543.5" y="1116" width="17.5" height="17"/>
<rect x="1543.5" y="1133" width="11.5" height="17"/>
<rect x="1543.5" y="1150" width="6.5" height="17"/>
<rect x="1543.5" y="1167" width="6.5" height="17"/>
<rect x="1543.5" y="1184" width="8.5" height="17"/>
<rect x="1543.5" y="1201" width="6.5" height="16"/>
<rect x="1543.5" y="1217" width="8.5" height="17"/>
<rect x="1543.5" y="1234" width="6.5" height="17"/>
<rect x="1543.5" y="1251" width="5.5" height="17"/>
<rect x="1543.5" y="1268" width="5.5" height="17"/>
<rect x="1543.5" y="1285" width="6.5" height="17"/>
<rect x="1543.5" y="1302" width="4.5" height="17"/>
<rect x="1543.5" y="1319" width="3.5" height="17"/>
<rect x="1543.5" y="1336" width="13.5" height="17"/>
<rect x="1543.5" y="1353" width="18.5" height="17"/>
<rect x="1543.5" y="1370" width="18.5" height="17"/>
<rect x="1543.5" y="1387" width="5.5" height="17"/>
<rect x="1543.5" y="1404" width="0.4" height="17"/>
<rect x="1543.5" y="1421" width="1.1" height="17"/>
<rect x="1543.5" y="1438" width="0.4" height="16"/>
<rect x="1543.5" y="1454" width="6.5" height="17"/>
<rect x="1543.5" y="1471" width="3.5" height="17"/>
</g>
<g class="sp">
<path d="M183.5 321.6V1630.5"/>
<path d="M183.5 1630.5H1483.3"/>
<path d="M183.5 45.5V252.5"/>
<path d="M183.5 252.5H1483.3"/>
<path d="M1543.5 321.6V1630.5"/>
<path d="M1543.5 1630.5H1755.3"/>
</g>
<g class="tk">
<path d="M264.50 1631.00v14.58M264.50 253.00v14.58M427.50 1631.00v14.58M427.50 253.00v14.58M589.50 1631.00v14.58M589.50 253.00v14.58M752.50 1631.00v14.58M752.50 253.00v14.58M914.50 1631.00v14.58M914.50 253.00v14.58M1077.50 1631.00v14.58M1077.50 253.00v14.58M1239.50 1631.00v14.58M1239.50 253.00v14.58M1402.50 1631.00v14.58M1402.50 253.00v14.58M182.70 1537.50h-14.58M1542.70 1537.50h-14.58M182.70 1350.50h-14.58M1542.70 1350.50h-14.58M182.70 1163.50h-14.58M1542.70 1163.50h-14.58M182.70 976.50h-14.58M1542.70 976.50h-14.58M182.70 789.50h-14.58M1542.70 789.50h-14.58M182.70 601.50h-14.58M1542.70 601.50h-14.58M182.70 414.50h-14.58M1542.70 414.50h-14.58M182.70 252.50h-14.58M182.70 126.50h-14.58M1543.50 1631.00v14.58M1656.50 1631.00v14.58"/>
</g>
<g class="t" text-anchor="middle" letter-spacing="0">
<text x="264.50" y="1692.00">120</text>
<text x="427.50" y="1692.00">125</text>
<text x="589.50" y="1692.00">130</text>
<text x="752.50" y="1692.00">135</text>
<text x="914.50" y="1692.00">140</text>
<text x="1077.50" y="1692.00">145</text>
<text x="1239.50" y="1692.00">150</text>
<text x="1402.50" y="1692.00">155</text>
<text x="1543.50" y="1692.00">0</text>
<text x="1656.50" y="1692.00">500</text>
</g>
<g class="t" text-anchor="end" letter-spacing="0">
<text x="154.10" y="1553.00">20</text>
<text x="154.10" y="1366.00">25</text>
<text x="154.10" y="1179.00">30</text>
<text x="154.10" y="992.00">35</text>
<text x="154.10" y="805.00">40</text>
<text x="154.10" y="617.00">45</text>
<text x="154.10" y="430.00">50</text>
<text x="154.10" y="268.00">0</text>
<text x="154.10" y="142.00">500</text>
</g>
<text class="l" text-anchor="middle" x="833.40" y="1748.50">経度</text>
<text class="l" text-anchor="middle" transform="translate(77.50 977.25) rotate(-90)">緯度</text>
</svg></body></html>
